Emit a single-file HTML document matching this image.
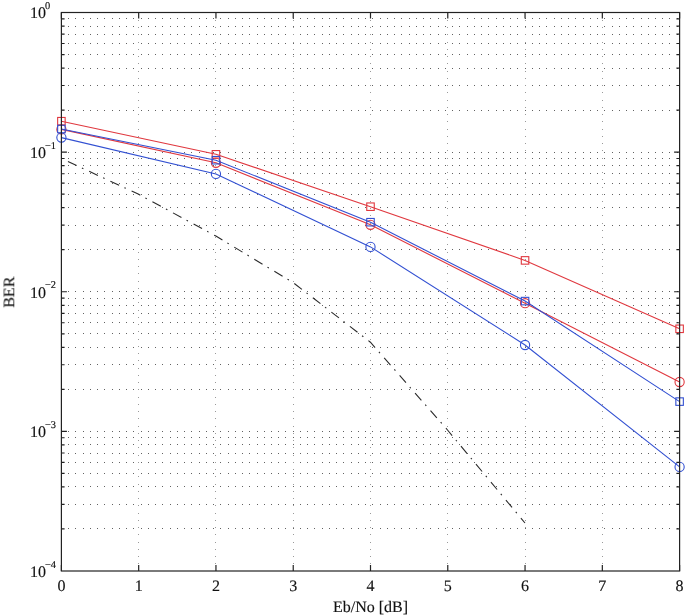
<!DOCTYPE html>
<html><head><meta charset="utf-8"><title>BER plot</title>
<style>html,body{margin:0;padding:0;background:#fff;}body{width:685px;height:615px;overflow:hidden;font-family:"Liberation Serif",serif;}svg{display:block;}</style>
</head><body><div id="w"><svg width="685" height="615" viewBox="0 0 685 615"><rect width="685" height="615" fill="#fff"/><path shape-rendering="crispEdges" fill="#626262" d="M68 152h1v1h-1zM75 152h1v1h-1zM83 152h1v1h-1zM90 152h1v1h-1zM97 152h1v1h-1zM104 152h1v1h-1zM112 152h1v1h-1zM119 152h1v1h-1zM126 152h1v1h-1zM133 152h1v1h-1zM141 152h1v1h-1zM148 152h1v1h-1zM155 152h1v1h-1zM162 152h1v1h-1zM170 152h1v1h-1zM177 152h1v1h-1zM184 152h1v1h-1zM191 152h1v1h-1zM199 152h1v1h-1zM206 152h1v1h-1zM213 152h1v1h-1zM220 152h1v1h-1zM228 152h1v1h-1zM235 152h1v1h-1zM242 152h1v1h-1zM249 152h1v1h-1zM257 152h1v1h-1zM264 152h1v1h-1zM271 152h1v1h-1zM278 152h1v1h-1zM285 152h1v1h-1zM293 152h1v1h-1zM300 152h1v1h-1zM307 152h1v1h-1zM314 152h1v1h-1zM322 152h1v1h-1zM329 152h1v1h-1zM336 152h1v1h-1zM343 152h1v1h-1zM351 152h1v1h-1zM358 152h1v1h-1zM365 152h1v1h-1zM372 152h1v1h-1zM380 152h1v1h-1zM387 152h1v1h-1zM394 152h1v1h-1zM401 152h1v1h-1zM409 152h1v1h-1zM416 152h1v1h-1zM423 152h1v1h-1zM430 152h1v1h-1zM438 152h1v1h-1zM445 152h1v1h-1zM452 152h1v1h-1zM459 152h1v1h-1zM467 152h1v1h-1zM474 152h1v1h-1zM481 152h1v1h-1zM488 152h1v1h-1zM496 152h1v1h-1zM503 152h1v1h-1zM510 152h1v1h-1zM517 152h1v1h-1zM525 152h1v1h-1zM532 152h1v1h-1zM539 152h1v1h-1zM546 152h1v1h-1zM554 152h1v1h-1zM561 152h1v1h-1zM568 152h1v1h-1zM575 152h1v1h-1zM583 152h1v1h-1zM590 152h1v1h-1zM597 152h1v1h-1zM604 152h1v1h-1zM612 152h1v1h-1zM619 152h1v1h-1zM626 152h1v1h-1zM633 152h1v1h-1zM641 152h1v1h-1zM648 152h1v1h-1zM655 152h1v1h-1zM662 152h1v1h-1zM669 152h1v1h-1zM677 152h1v1h-1zM68 110h1v1h-1zM75 110h1v1h-1zM83 110h1v1h-1zM90 110h1v1h-1zM97 110h1v1h-1zM104 110h1v1h-1zM112 110h1v1h-1zM119 110h1v1h-1zM126 110h1v1h-1zM133 110h1v1h-1zM141 110h1v1h-1zM148 110h1v1h-1zM155 110h1v1h-1zM162 110h1v1h-1zM170 110h1v1h-1zM177 110h1v1h-1zM184 110h1v1h-1zM191 110h1v1h-1zM199 110h1v1h-1zM206 110h1v1h-1zM213 110h1v1h-1zM220 110h1v1h-1zM228 110h1v1h-1zM235 110h1v1h-1zM242 110h1v1h-1zM249 110h1v1h-1zM257 110h1v1h-1zM264 110h1v1h-1zM271 110h1v1h-1zM278 110h1v1h-1zM285 110h1v1h-1zM293 110h1v1h-1zM300 110h1v1h-1zM307 110h1v1h-1zM314 110h1v1h-1zM322 110h1v1h-1zM329 110h1v1h-1zM336 110h1v1h-1zM343 110h1v1h-1zM351 110h1v1h-1zM358 110h1v1h-1zM365 110h1v1h-1zM372 110h1v1h-1zM380 110h1v1h-1zM387 110h1v1h-1zM394 110h1v1h-1zM401 110h1v1h-1zM409 110h1v1h-1zM416 110h1v1h-1zM423 110h1v1h-1zM430 110h1v1h-1zM438 110h1v1h-1zM445 110h1v1h-1zM452 110h1v1h-1zM459 110h1v1h-1zM467 110h1v1h-1zM474 110h1v1h-1zM481 110h1v1h-1zM488 110h1v1h-1zM496 110h1v1h-1zM503 110h1v1h-1zM510 110h1v1h-1zM517 110h1v1h-1zM525 110h1v1h-1zM532 110h1v1h-1zM539 110h1v1h-1zM546 110h1v1h-1zM554 110h1v1h-1zM561 110h1v1h-1zM568 110h1v1h-1zM575 110h1v1h-1zM583 110h1v1h-1zM590 110h1v1h-1zM597 110h1v1h-1zM604 110h1v1h-1zM612 110h1v1h-1zM619 110h1v1h-1zM626 110h1v1h-1zM633 110h1v1h-1zM641 110h1v1h-1zM648 110h1v1h-1zM655 110h1v1h-1zM662 110h1v1h-1zM669 110h1v1h-1zM677 110h1v1h-1zM68 85h1v1h-1zM75 85h1v1h-1zM83 85h1v1h-1zM90 85h1v1h-1zM97 85h1v1h-1zM104 85h1v1h-1zM112 85h1v1h-1zM119 85h1v1h-1zM126 85h1v1h-1zM133 85h1v1h-1zM141 85h1v1h-1zM148 85h1v1h-1zM155 85h1v1h-1zM162 85h1v1h-1zM170 85h1v1h-1zM177 85h1v1h-1zM184 85h1v1h-1zM191 85h1v1h-1zM199 85h1v1h-1zM206 85h1v1h-1zM213 85h1v1h-1zM220 85h1v1h-1zM228 85h1v1h-1zM235 85h1v1h-1zM242 85h1v1h-1zM249 85h1v1h-1zM257 85h1v1h-1zM264 85h1v1h-1zM271 85h1v1h-1zM278 85h1v1h-1zM285 85h1v1h-1zM293 85h1v1h-1zM300 85h1v1h-1zM307 85h1v1h-1zM314 85h1v1h-1zM322 85h1v1h-1zM329 85h1v1h-1zM336 85h1v1h-1zM343 85h1v1h-1zM351 85h1v1h-1zM358 85h1v1h-1zM365 85h1v1h-1zM372 85h1v1h-1zM380 85h1v1h-1zM387 85h1v1h-1zM394 85h1v1h-1zM401 85h1v1h-1zM409 85h1v1h-1zM416 85h1v1h-1zM423 85h1v1h-1zM430 85h1v1h-1zM438 85h1v1h-1zM445 85h1v1h-1zM452 85h1v1h-1zM459 85h1v1h-1zM467 85h1v1h-1zM474 85h1v1h-1zM481 85h1v1h-1zM488 85h1v1h-1zM496 85h1v1h-1zM503 85h1v1h-1zM510 85h1v1h-1zM517 85h1v1h-1zM525 85h1v1h-1zM532 85h1v1h-1zM539 85h1v1h-1zM546 85h1v1h-1zM554 85h1v1h-1zM561 85h1v1h-1zM568 85h1v1h-1zM575 85h1v1h-1zM583 85h1v1h-1zM590 85h1v1h-1zM597 85h1v1h-1zM604 85h1v1h-1zM612 85h1v1h-1zM619 85h1v1h-1zM626 85h1v1h-1zM633 85h1v1h-1zM641 85h1v1h-1zM648 85h1v1h-1zM655 85h1v1h-1zM662 85h1v1h-1zM669 85h1v1h-1zM677 85h1v1h-1zM68 68h1v1h-1zM75 68h1v1h-1zM83 68h1v1h-1zM90 68h1v1h-1zM97 68h1v1h-1zM104 68h1v1h-1zM112 68h1v1h-1zM119 68h1v1h-1zM126 68h1v1h-1zM133 68h1v1h-1zM141 68h1v1h-1zM148 68h1v1h-1zM155 68h1v1h-1zM162 68h1v1h-1zM170 68h1v1h-1zM177 68h1v1h-1zM184 68h1v1h-1zM191 68h1v1h-1zM199 68h1v1h-1zM206 68h1v1h-1zM213 68h1v1h-1zM220 68h1v1h-1zM228 68h1v1h-1zM235 68h1v1h-1zM242 68h1v1h-1zM249 68h1v1h-1zM257 68h1v1h-1zM264 68h1v1h-1zM271 68h1v1h-1zM278 68h1v1h-1zM285 68h1v1h-1zM293 68h1v1h-1zM300 68h1v1h-1zM307 68h1v1h-1zM314 68h1v1h-1zM322 68h1v1h-1zM329 68h1v1h-1zM336 68h1v1h-1zM343 68h1v1h-1zM351 68h1v1h-1zM358 68h1v1h-1zM365 68h1v1h-1zM372 68h1v1h-1zM380 68h1v1h-1zM387 68h1v1h-1zM394 68h1v1h-1zM401 68h1v1h-1zM409 68h1v1h-1zM416 68h1v1h-1zM423 68h1v1h-1zM430 68h1v1h-1zM438 68h1v1h-1zM445 68h1v1h-1zM452 68h1v1h-1zM459 68h1v1h-1zM467 68h1v1h-1zM474 68h1v1h-1zM481 68h1v1h-1zM488 68h1v1h-1zM496 68h1v1h-1zM503 68h1v1h-1zM510 68h1v1h-1zM517 68h1v1h-1zM525 68h1v1h-1zM532 68h1v1h-1zM539 68h1v1h-1zM546 68h1v1h-1zM554 68h1v1h-1zM561 68h1v1h-1zM568 68h1v1h-1zM575 68h1v1h-1zM583 68h1v1h-1zM590 68h1v1h-1zM597 68h1v1h-1zM604 68h1v1h-1zM612 68h1v1h-1zM619 68h1v1h-1zM626 68h1v1h-1zM633 68h1v1h-1zM641 68h1v1h-1zM648 68h1v1h-1zM655 68h1v1h-1zM662 68h1v1h-1zM669 68h1v1h-1zM677 68h1v1h-1zM68 54h1v1h-1zM75 54h1v1h-1zM83 54h1v1h-1zM90 54h1v1h-1zM97 54h1v1h-1zM104 54h1v1h-1zM112 54h1v1h-1zM119 54h1v1h-1zM126 54h1v1h-1zM133 54h1v1h-1zM141 54h1v1h-1zM148 54h1v1h-1zM155 54h1v1h-1zM162 54h1v1h-1zM170 54h1v1h-1zM177 54h1v1h-1zM184 54h1v1h-1zM191 54h1v1h-1zM199 54h1v1h-1zM206 54h1v1h-1zM213 54h1v1h-1zM220 54h1v1h-1zM228 54h1v1h-1zM235 54h1v1h-1zM242 54h1v1h-1zM249 54h1v1h-1zM257 54h1v1h-1zM264 54h1v1h-1zM271 54h1v1h-1zM278 54h1v1h-1zM285 54h1v1h-1zM293 54h1v1h-1zM300 54h1v1h-1zM307 54h1v1h-1zM314 54h1v1h-1zM322 54h1v1h-1zM329 54h1v1h-1zM336 54h1v1h-1zM343 54h1v1h-1zM351 54h1v1h-1zM358 54h1v1h-1zM365 54h1v1h-1zM372 54h1v1h-1zM380 54h1v1h-1zM387 54h1v1h-1zM394 54h1v1h-1zM401 54h1v1h-1zM409 54h1v1h-1zM416 54h1v1h-1zM423 54h1v1h-1zM430 54h1v1h-1zM438 54h1v1h-1zM445 54h1v1h-1zM452 54h1v1h-1zM459 54h1v1h-1zM467 54h1v1h-1zM474 54h1v1h-1zM481 54h1v1h-1zM488 54h1v1h-1zM496 54h1v1h-1zM503 54h1v1h-1zM510 54h1v1h-1zM517 54h1v1h-1zM525 54h1v1h-1zM532 54h1v1h-1zM539 54h1v1h-1zM546 54h1v1h-1zM554 54h1v1h-1zM561 54h1v1h-1zM568 54h1v1h-1zM575 54h1v1h-1zM583 54h1v1h-1zM590 54h1v1h-1zM597 54h1v1h-1zM604 54h1v1h-1zM612 54h1v1h-1zM619 54h1v1h-1zM626 54h1v1h-1zM633 54h1v1h-1zM641 54h1v1h-1zM648 54h1v1h-1zM655 54h1v1h-1zM662 54h1v1h-1zM669 54h1v1h-1zM677 54h1v1h-1zM68 43h1v1h-1zM75 43h1v1h-1zM83 43h1v1h-1zM90 43h1v1h-1zM97 43h1v1h-1zM104 43h1v1h-1zM112 43h1v1h-1zM119 43h1v1h-1zM126 43h1v1h-1zM133 43h1v1h-1zM141 43h1v1h-1zM148 43h1v1h-1zM155 43h1v1h-1zM162 43h1v1h-1zM170 43h1v1h-1zM177 43h1v1h-1zM184 43h1v1h-1zM191 43h1v1h-1zM199 43h1v1h-1zM206 43h1v1h-1zM213 43h1v1h-1zM220 43h1v1h-1zM228 43h1v1h-1zM235 43h1v1h-1zM242 43h1v1h-1zM249 43h1v1h-1zM257 43h1v1h-1zM264 43h1v1h-1zM271 43h1v1h-1zM278 43h1v1h-1zM285 43h1v1h-1zM293 43h1v1h-1zM300 43h1v1h-1zM307 43h1v1h-1zM314 43h1v1h-1zM322 43h1v1h-1zM329 43h1v1h-1zM336 43h1v1h-1zM343 43h1v1h-1zM351 43h1v1h-1zM358 43h1v1h-1zM365 43h1v1h-1zM372 43h1v1h-1zM380 43h1v1h-1zM387 43h1v1h-1zM394 43h1v1h-1zM401 43h1v1h-1zM409 43h1v1h-1zM416 43h1v1h-1zM423 43h1v1h-1zM430 43h1v1h-1zM438 43h1v1h-1zM445 43h1v1h-1zM452 43h1v1h-1zM459 43h1v1h-1zM467 43h1v1h-1zM474 43h1v1h-1zM481 43h1v1h-1zM488 43h1v1h-1zM496 43h1v1h-1zM503 43h1v1h-1zM510 43h1v1h-1zM517 43h1v1h-1zM525 43h1v1h-1zM532 43h1v1h-1zM539 43h1v1h-1zM546 43h1v1h-1zM554 43h1v1h-1zM561 43h1v1h-1zM568 43h1v1h-1zM575 43h1v1h-1zM583 43h1v1h-1zM590 43h1v1h-1zM597 43h1v1h-1zM604 43h1v1h-1zM612 43h1v1h-1zM619 43h1v1h-1zM626 43h1v1h-1zM633 43h1v1h-1zM641 43h1v1h-1zM648 43h1v1h-1zM655 43h1v1h-1zM662 43h1v1h-1zM669 43h1v1h-1zM677 43h1v1h-1zM68 34h1v1h-1zM75 34h1v1h-1zM83 34h1v1h-1zM90 34h1v1h-1zM97 34h1v1h-1zM104 34h1v1h-1zM112 34h1v1h-1zM119 34h1v1h-1zM126 34h1v1h-1zM133 34h1v1h-1zM141 34h1v1h-1zM148 34h1v1h-1zM155 34h1v1h-1zM162 34h1v1h-1zM170 34h1v1h-1zM177 34h1v1h-1zM184 34h1v1h-1zM191 34h1v1h-1zM199 34h1v1h-1zM206 34h1v1h-1zM213 34h1v1h-1zM220 34h1v1h-1zM228 34h1v1h-1zM235 34h1v1h-1zM242 34h1v1h-1zM249 34h1v1h-1zM257 34h1v1h-1zM264 34h1v1h-1zM271 34h1v1h-1zM278 34h1v1h-1zM285 34h1v1h-1zM293 34h1v1h-1zM300 34h1v1h-1zM307 34h1v1h-1zM314 34h1v1h-1zM322 34h1v1h-1zM329 34h1v1h-1zM336 34h1v1h-1zM343 34h1v1h-1zM351 34h1v1h-1zM358 34h1v1h-1zM365 34h1v1h-1zM372 34h1v1h-1zM380 34h1v1h-1zM387 34h1v1h-1zM394 34h1v1h-1zM401 34h1v1h-1zM409 34h1v1h-1zM416 34h1v1h-1zM423 34h1v1h-1zM430 34h1v1h-1zM438 34h1v1h-1zM445 34h1v1h-1zM452 34h1v1h-1zM459 34h1v1h-1zM467 34h1v1h-1zM474 34h1v1h-1zM481 34h1v1h-1zM488 34h1v1h-1zM496 34h1v1h-1zM503 34h1v1h-1zM510 34h1v1h-1zM517 34h1v1h-1zM525 34h1v1h-1zM532 34h1v1h-1zM539 34h1v1h-1zM546 34h1v1h-1zM554 34h1v1h-1zM561 34h1v1h-1zM568 34h1v1h-1zM575 34h1v1h-1zM583 34h1v1h-1zM590 34h1v1h-1zM597 34h1v1h-1zM604 34h1v1h-1zM612 34h1v1h-1zM619 34h1v1h-1zM626 34h1v1h-1zM633 34h1v1h-1zM641 34h1v1h-1zM648 34h1v1h-1zM655 34h1v1h-1zM662 34h1v1h-1zM669 34h1v1h-1zM677 34h1v1h-1zM68 26h1v1h-1zM75 26h1v1h-1zM83 26h1v1h-1zM90 26h1v1h-1zM97 26h1v1h-1zM104 26h1v1h-1zM112 26h1v1h-1zM119 26h1v1h-1zM126 26h1v1h-1zM133 26h1v1h-1zM141 26h1v1h-1zM148 26h1v1h-1zM155 26h1v1h-1zM162 26h1v1h-1zM170 26h1v1h-1zM177 26h1v1h-1zM184 26h1v1h-1zM191 26h1v1h-1zM199 26h1v1h-1zM206 26h1v1h-1zM213 26h1v1h-1zM220 26h1v1h-1zM228 26h1v1h-1zM235 26h1v1h-1zM242 26h1v1h-1zM249 26h1v1h-1zM257 26h1v1h-1zM264 26h1v1h-1zM271 26h1v1h-1zM278 26h1v1h-1zM285 26h1v1h-1zM293 26h1v1h-1zM300 26h1v1h-1zM307 26h1v1h-1zM314 26h1v1h-1zM322 26h1v1h-1zM329 26h1v1h-1zM336 26h1v1h-1zM343 26h1v1h-1zM351 26h1v1h-1zM358 26h1v1h-1zM365 26h1v1h-1zM372 26h1v1h-1zM380 26h1v1h-1zM387 26h1v1h-1zM394 26h1v1h-1zM401 26h1v1h-1zM409 26h1v1h-1zM416 26h1v1h-1zM423 26h1v1h-1zM430 26h1v1h-1zM438 26h1v1h-1zM445 26h1v1h-1zM452 26h1v1h-1zM459 26h1v1h-1zM467 26h1v1h-1zM474 26h1v1h-1zM481 26h1v1h-1zM488 26h1v1h-1zM496 26h1v1h-1zM503 26h1v1h-1zM510 26h1v1h-1zM517 26h1v1h-1zM525 26h1v1h-1zM532 26h1v1h-1zM539 26h1v1h-1zM546 26h1v1h-1zM554 26h1v1h-1zM561 26h1v1h-1zM568 26h1v1h-1zM575 26h1v1h-1zM583 26h1v1h-1zM590 26h1v1h-1zM597 26h1v1h-1zM604 26h1v1h-1zM612 26h1v1h-1zM619 26h1v1h-1zM626 26h1v1h-1zM633 26h1v1h-1zM641 26h1v1h-1zM648 26h1v1h-1zM655 26h1v1h-1zM662 26h1v1h-1zM669 26h1v1h-1zM677 26h1v1h-1zM68 18h1v1h-1zM75 18h1v1h-1zM83 18h1v1h-1zM90 18h1v1h-1zM97 18h1v1h-1zM104 18h1v1h-1zM112 18h1v1h-1zM119 18h1v1h-1zM126 18h1v1h-1zM133 18h1v1h-1zM141 18h1v1h-1zM148 18h1v1h-1zM155 18h1v1h-1zM162 18h1v1h-1zM170 18h1v1h-1zM177 18h1v1h-1zM184 18h1v1h-1zM191 18h1v1h-1zM199 18h1v1h-1zM206 18h1v1h-1zM213 18h1v1h-1zM220 18h1v1h-1zM228 18h1v1h-1zM235 18h1v1h-1zM242 18h1v1h-1zM249 18h1v1h-1zM257 18h1v1h-1zM264 18h1v1h-1zM271 18h1v1h-1zM278 18h1v1h-1zM285 18h1v1h-1zM293 18h1v1h-1zM300 18h1v1h-1zM307 18h1v1h-1zM314 18h1v1h-1zM322 18h1v1h-1zM329 18h1v1h-1zM336 18h1v1h-1zM343 18h1v1h-1zM351 18h1v1h-1zM358 18h1v1h-1zM365 18h1v1h-1zM372 18h1v1h-1zM380 18h1v1h-1zM387 18h1v1h-1zM394 18h1v1h-1zM401 18h1v1h-1zM409 18h1v1h-1zM416 18h1v1h-1zM423 18h1v1h-1zM430 18h1v1h-1zM438 18h1v1h-1zM445 18h1v1h-1zM452 18h1v1h-1zM459 18h1v1h-1zM467 18h1v1h-1zM474 18h1v1h-1zM481 18h1v1h-1zM488 18h1v1h-1zM496 18h1v1h-1zM503 18h1v1h-1zM510 18h1v1h-1zM517 18h1v1h-1zM525 18h1v1h-1zM532 18h1v1h-1zM539 18h1v1h-1zM546 18h1v1h-1zM554 18h1v1h-1zM561 18h1v1h-1zM568 18h1v1h-1zM575 18h1v1h-1zM583 18h1v1h-1zM590 18h1v1h-1zM597 18h1v1h-1zM604 18h1v1h-1zM612 18h1v1h-1zM619 18h1v1h-1zM626 18h1v1h-1zM633 18h1v1h-1zM641 18h1v1h-1zM648 18h1v1h-1zM655 18h1v1h-1zM662 18h1v1h-1zM669 18h1v1h-1zM677 18h1v1h-1zM68 291h1v1h-1zM75 291h1v1h-1zM83 291h1v1h-1zM90 291h1v1h-1zM97 291h1v1h-1zM104 291h1v1h-1zM112 291h1v1h-1zM119 291h1v1h-1zM126 291h1v1h-1zM133 291h1v1h-1zM141 291h1v1h-1zM148 291h1v1h-1zM155 291h1v1h-1zM162 291h1v1h-1zM170 291h1v1h-1zM177 291h1v1h-1zM184 291h1v1h-1zM191 291h1v1h-1zM199 291h1v1h-1zM206 291h1v1h-1zM213 291h1v1h-1zM220 291h1v1h-1zM228 291h1v1h-1zM235 291h1v1h-1zM242 291h1v1h-1zM249 291h1v1h-1zM257 291h1v1h-1zM264 291h1v1h-1zM271 291h1v1h-1zM278 291h1v1h-1zM285 291h1v1h-1zM293 291h1v1h-1zM300 291h1v1h-1zM307 291h1v1h-1zM314 291h1v1h-1zM322 291h1v1h-1zM329 291h1v1h-1zM336 291h1v1h-1zM343 291h1v1h-1zM351 291h1v1h-1zM358 291h1v1h-1zM365 291h1v1h-1zM372 291h1v1h-1zM380 291h1v1h-1zM387 291h1v1h-1zM394 291h1v1h-1zM401 291h1v1h-1zM409 291h1v1h-1zM416 291h1v1h-1zM423 291h1v1h-1zM430 291h1v1h-1zM438 291h1v1h-1zM445 291h1v1h-1zM452 291h1v1h-1zM459 291h1v1h-1zM467 291h1v1h-1zM474 291h1v1h-1zM481 291h1v1h-1zM488 291h1v1h-1zM496 291h1v1h-1zM503 291h1v1h-1zM510 291h1v1h-1zM517 291h1v1h-1zM525 291h1v1h-1zM532 291h1v1h-1zM539 291h1v1h-1zM546 291h1v1h-1zM554 291h1v1h-1zM561 291h1v1h-1zM568 291h1v1h-1zM575 291h1v1h-1zM583 291h1v1h-1zM590 291h1v1h-1zM597 291h1v1h-1zM604 291h1v1h-1zM612 291h1v1h-1zM619 291h1v1h-1zM626 291h1v1h-1zM633 291h1v1h-1zM641 291h1v1h-1zM648 291h1v1h-1zM655 291h1v1h-1zM662 291h1v1h-1zM669 291h1v1h-1zM677 291h1v1h-1zM68 249h1v1h-1zM75 249h1v1h-1zM83 249h1v1h-1zM90 249h1v1h-1zM97 249h1v1h-1zM104 249h1v1h-1zM112 249h1v1h-1zM119 249h1v1h-1zM126 249h1v1h-1zM133 249h1v1h-1zM141 249h1v1h-1zM148 249h1v1h-1zM155 249h1v1h-1zM162 249h1v1h-1zM170 249h1v1h-1zM177 249h1v1h-1zM184 249h1v1h-1zM191 249h1v1h-1zM199 249h1v1h-1zM206 249h1v1h-1zM213 249h1v1h-1zM220 249h1v1h-1zM228 249h1v1h-1zM235 249h1v1h-1zM242 249h1v1h-1zM249 249h1v1h-1zM257 249h1v1h-1zM264 249h1v1h-1zM271 249h1v1h-1zM278 249h1v1h-1zM285 249h1v1h-1zM293 249h1v1h-1zM300 249h1v1h-1zM307 249h1v1h-1zM314 249h1v1h-1zM322 249h1v1h-1zM329 249h1v1h-1zM336 249h1v1h-1zM343 249h1v1h-1zM351 249h1v1h-1zM358 249h1v1h-1zM365 249h1v1h-1zM372 249h1v1h-1zM380 249h1v1h-1zM387 249h1v1h-1zM394 249h1v1h-1zM401 249h1v1h-1zM409 249h1v1h-1zM416 249h1v1h-1zM423 249h1v1h-1zM430 249h1v1h-1zM438 249h1v1h-1zM445 249h1v1h-1zM452 249h1v1h-1zM459 249h1v1h-1zM467 249h1v1h-1zM474 249h1v1h-1zM481 249h1v1h-1zM488 249h1v1h-1zM496 249h1v1h-1zM503 249h1v1h-1zM510 249h1v1h-1zM517 249h1v1h-1zM525 249h1v1h-1zM532 249h1v1h-1zM539 249h1v1h-1zM546 249h1v1h-1zM554 249h1v1h-1zM561 249h1v1h-1zM568 249h1v1h-1zM575 249h1v1h-1zM583 249h1v1h-1zM590 249h1v1h-1zM597 249h1v1h-1zM604 249h1v1h-1zM612 249h1v1h-1zM619 249h1v1h-1zM626 249h1v1h-1zM633 249h1v1h-1zM641 249h1v1h-1zM648 249h1v1h-1zM655 249h1v1h-1zM662 249h1v1h-1zM669 249h1v1h-1zM677 249h1v1h-1zM68 225h1v1h-1zM75 225h1v1h-1zM83 225h1v1h-1zM90 225h1v1h-1zM97 225h1v1h-1zM104 225h1v1h-1zM112 225h1v1h-1zM119 225h1v1h-1zM126 225h1v1h-1zM133 225h1v1h-1zM141 225h1v1h-1zM148 225h1v1h-1zM155 225h1v1h-1zM162 225h1v1h-1zM170 225h1v1h-1zM177 225h1v1h-1zM184 225h1v1h-1zM191 225h1v1h-1zM199 225h1v1h-1zM206 225h1v1h-1zM213 225h1v1h-1zM220 225h1v1h-1zM228 225h1v1h-1zM235 225h1v1h-1zM242 225h1v1h-1zM249 225h1v1h-1zM257 225h1v1h-1zM264 225h1v1h-1zM271 225h1v1h-1zM278 225h1v1h-1zM285 225h1v1h-1zM293 225h1v1h-1zM300 225h1v1h-1zM307 225h1v1h-1zM314 225h1v1h-1zM322 225h1v1h-1zM329 225h1v1h-1zM336 225h1v1h-1zM343 225h1v1h-1zM351 225h1v1h-1zM358 225h1v1h-1zM365 225h1v1h-1zM372 225h1v1h-1zM380 225h1v1h-1zM387 225h1v1h-1zM394 225h1v1h-1zM401 225h1v1h-1zM409 225h1v1h-1zM416 225h1v1h-1zM423 225h1v1h-1zM430 225h1v1h-1zM438 225h1v1h-1zM445 225h1v1h-1zM452 225h1v1h-1zM459 225h1v1h-1zM467 225h1v1h-1zM474 225h1v1h-1zM481 225h1v1h-1zM488 225h1v1h-1zM496 225h1v1h-1zM503 225h1v1h-1zM510 225h1v1h-1zM517 225h1v1h-1zM525 225h1v1h-1zM532 225h1v1h-1zM539 225h1v1h-1zM546 225h1v1h-1zM554 225h1v1h-1zM561 225h1v1h-1zM568 225h1v1h-1zM575 225h1v1h-1zM583 225h1v1h-1zM590 225h1v1h-1zM597 225h1v1h-1zM604 225h1v1h-1zM612 225h1v1h-1zM619 225h1v1h-1zM626 225h1v1h-1zM633 225h1v1h-1zM641 225h1v1h-1zM648 225h1v1h-1zM655 225h1v1h-1zM662 225h1v1h-1zM669 225h1v1h-1zM677 225h1v1h-1zM68 207h1v1h-1zM75 207h1v1h-1zM83 207h1v1h-1zM90 207h1v1h-1zM97 207h1v1h-1zM104 207h1v1h-1zM112 207h1v1h-1zM119 207h1v1h-1zM126 207h1v1h-1zM133 207h1v1h-1zM141 207h1v1h-1zM148 207h1v1h-1zM155 207h1v1h-1zM162 207h1v1h-1zM170 207h1v1h-1zM177 207h1v1h-1zM184 207h1v1h-1zM191 207h1v1h-1zM199 207h1v1h-1zM206 207h1v1h-1zM213 207h1v1h-1zM220 207h1v1h-1zM228 207h1v1h-1zM235 207h1v1h-1zM242 207h1v1h-1zM249 207h1v1h-1zM257 207h1v1h-1zM264 207h1v1h-1zM271 207h1v1h-1zM278 207h1v1h-1zM285 207h1v1h-1zM293 207h1v1h-1zM300 207h1v1h-1zM307 207h1v1h-1zM314 207h1v1h-1zM322 207h1v1h-1zM329 207h1v1h-1zM336 207h1v1h-1zM343 207h1v1h-1zM351 207h1v1h-1zM358 207h1v1h-1zM365 207h1v1h-1zM372 207h1v1h-1zM380 207h1v1h-1zM387 207h1v1h-1zM394 207h1v1h-1zM401 207h1v1h-1zM409 207h1v1h-1zM416 207h1v1h-1zM423 207h1v1h-1zM430 207h1v1h-1zM438 207h1v1h-1zM445 207h1v1h-1zM452 207h1v1h-1zM459 207h1v1h-1zM467 207h1v1h-1zM474 207h1v1h-1zM481 207h1v1h-1zM488 207h1v1h-1zM496 207h1v1h-1zM503 207h1v1h-1zM510 207h1v1h-1zM517 207h1v1h-1zM525 207h1v1h-1zM532 207h1v1h-1zM539 207h1v1h-1zM546 207h1v1h-1zM554 207h1v1h-1zM561 207h1v1h-1zM568 207h1v1h-1zM575 207h1v1h-1zM583 207h1v1h-1zM590 207h1v1h-1zM597 207h1v1h-1zM604 207h1v1h-1zM612 207h1v1h-1zM619 207h1v1h-1zM626 207h1v1h-1zM633 207h1v1h-1zM641 207h1v1h-1zM648 207h1v1h-1zM655 207h1v1h-1zM662 207h1v1h-1zM669 207h1v1h-1zM677 207h1v1h-1zM68 194h1v1h-1zM75 194h1v1h-1zM83 194h1v1h-1zM90 194h1v1h-1zM97 194h1v1h-1zM104 194h1v1h-1zM112 194h1v1h-1zM119 194h1v1h-1zM126 194h1v1h-1zM133 194h1v1h-1zM141 194h1v1h-1zM148 194h1v1h-1zM155 194h1v1h-1zM162 194h1v1h-1zM170 194h1v1h-1zM177 194h1v1h-1zM184 194h1v1h-1zM191 194h1v1h-1zM199 194h1v1h-1zM206 194h1v1h-1zM213 194h1v1h-1zM220 194h1v1h-1zM228 194h1v1h-1zM235 194h1v1h-1zM242 194h1v1h-1zM249 194h1v1h-1zM257 194h1v1h-1zM264 194h1v1h-1zM271 194h1v1h-1zM278 194h1v1h-1zM285 194h1v1h-1zM293 194h1v1h-1zM300 194h1v1h-1zM307 194h1v1h-1zM314 194h1v1h-1zM322 194h1v1h-1zM329 194h1v1h-1zM336 194h1v1h-1zM343 194h1v1h-1zM351 194h1v1h-1zM358 194h1v1h-1zM365 194h1v1h-1zM372 194h1v1h-1zM380 194h1v1h-1zM387 194h1v1h-1zM394 194h1v1h-1zM401 194h1v1h-1zM409 194h1v1h-1zM416 194h1v1h-1zM423 194h1v1h-1zM430 194h1v1h-1zM438 194h1v1h-1zM445 194h1v1h-1zM452 194h1v1h-1zM459 194h1v1h-1zM467 194h1v1h-1zM474 194h1v1h-1zM481 194h1v1h-1zM488 194h1v1h-1zM496 194h1v1h-1zM503 194h1v1h-1zM510 194h1v1h-1zM517 194h1v1h-1zM525 194h1v1h-1zM532 194h1v1h-1zM539 194h1v1h-1zM546 194h1v1h-1zM554 194h1v1h-1zM561 194h1v1h-1zM568 194h1v1h-1zM575 194h1v1h-1zM583 194h1v1h-1zM590 194h1v1h-1zM597 194h1v1h-1zM604 194h1v1h-1zM612 194h1v1h-1zM619 194h1v1h-1zM626 194h1v1h-1zM633 194h1v1h-1zM641 194h1v1h-1zM648 194h1v1h-1zM655 194h1v1h-1zM662 194h1v1h-1zM669 194h1v1h-1zM677 194h1v1h-1zM68 183h1v1h-1zM75 183h1v1h-1zM83 183h1v1h-1zM90 183h1v1h-1zM97 183h1v1h-1zM104 183h1v1h-1zM112 183h1v1h-1zM119 183h1v1h-1zM126 183h1v1h-1zM133 183h1v1h-1zM141 183h1v1h-1zM148 183h1v1h-1zM155 183h1v1h-1zM162 183h1v1h-1zM170 183h1v1h-1zM177 183h1v1h-1zM184 183h1v1h-1zM191 183h1v1h-1zM199 183h1v1h-1zM206 183h1v1h-1zM213 183h1v1h-1zM220 183h1v1h-1zM228 183h1v1h-1zM235 183h1v1h-1zM242 183h1v1h-1zM249 183h1v1h-1zM257 183h1v1h-1zM264 183h1v1h-1zM271 183h1v1h-1zM278 183h1v1h-1zM285 183h1v1h-1zM293 183h1v1h-1zM300 183h1v1h-1zM307 183h1v1h-1zM314 183h1v1h-1zM322 183h1v1h-1zM329 183h1v1h-1zM336 183h1v1h-1zM343 183h1v1h-1zM351 183h1v1h-1zM358 183h1v1h-1zM365 183h1v1h-1zM372 183h1v1h-1zM380 183h1v1h-1zM387 183h1v1h-1zM394 183h1v1h-1zM401 183h1v1h-1zM409 183h1v1h-1zM416 183h1v1h-1zM423 183h1v1h-1zM430 183h1v1h-1zM438 183h1v1h-1zM445 183h1v1h-1zM452 183h1v1h-1zM459 183h1v1h-1zM467 183h1v1h-1zM474 183h1v1h-1zM481 183h1v1h-1zM488 183h1v1h-1zM496 183h1v1h-1zM503 183h1v1h-1zM510 183h1v1h-1zM517 183h1v1h-1zM525 183h1v1h-1zM532 183h1v1h-1zM539 183h1v1h-1zM546 183h1v1h-1zM554 183h1v1h-1zM561 183h1v1h-1zM568 183h1v1h-1zM575 183h1v1h-1zM583 183h1v1h-1zM590 183h1v1h-1zM597 183h1v1h-1zM604 183h1v1h-1zM612 183h1v1h-1zM619 183h1v1h-1zM626 183h1v1h-1zM633 183h1v1h-1zM641 183h1v1h-1zM648 183h1v1h-1zM655 183h1v1h-1zM662 183h1v1h-1zM669 183h1v1h-1zM677 183h1v1h-1zM68 173h1v1h-1zM75 173h1v1h-1zM83 173h1v1h-1zM90 173h1v1h-1zM97 173h1v1h-1zM104 173h1v1h-1zM112 173h1v1h-1zM119 173h1v1h-1zM126 173h1v1h-1zM133 173h1v1h-1zM141 173h1v1h-1zM148 173h1v1h-1zM155 173h1v1h-1zM162 173h1v1h-1zM170 173h1v1h-1zM177 173h1v1h-1zM184 173h1v1h-1zM191 173h1v1h-1zM199 173h1v1h-1zM206 173h1v1h-1zM213 173h1v1h-1zM220 173h1v1h-1zM228 173h1v1h-1zM235 173h1v1h-1zM242 173h1v1h-1zM249 173h1v1h-1zM257 173h1v1h-1zM264 173h1v1h-1zM271 173h1v1h-1zM278 173h1v1h-1zM285 173h1v1h-1zM293 173h1v1h-1zM300 173h1v1h-1zM307 173h1v1h-1zM314 173h1v1h-1zM322 173h1v1h-1zM329 173h1v1h-1zM336 173h1v1h-1zM343 173h1v1h-1zM351 173h1v1h-1zM358 173h1v1h-1zM365 173h1v1h-1zM372 173h1v1h-1zM380 173h1v1h-1zM387 173h1v1h-1zM394 173h1v1h-1zM401 173h1v1h-1zM409 173h1v1h-1zM416 173h1v1h-1zM423 173h1v1h-1zM430 173h1v1h-1zM438 173h1v1h-1zM445 173h1v1h-1zM452 173h1v1h-1zM459 173h1v1h-1zM467 173h1v1h-1zM474 173h1v1h-1zM481 173h1v1h-1zM488 173h1v1h-1zM496 173h1v1h-1zM503 173h1v1h-1zM510 173h1v1h-1zM517 173h1v1h-1zM525 173h1v1h-1zM532 173h1v1h-1zM539 173h1v1h-1zM546 173h1v1h-1zM554 173h1v1h-1zM561 173h1v1h-1zM568 173h1v1h-1zM575 173h1v1h-1zM583 173h1v1h-1zM590 173h1v1h-1zM597 173h1v1h-1zM604 173h1v1h-1zM612 173h1v1h-1zM619 173h1v1h-1zM626 173h1v1h-1zM633 173h1v1h-1zM641 173h1v1h-1zM648 173h1v1h-1zM655 173h1v1h-1zM662 173h1v1h-1zM669 173h1v1h-1zM677 173h1v1h-1zM68 165h1v1h-1zM75 165h1v1h-1zM83 165h1v1h-1zM90 165h1v1h-1zM97 165h1v1h-1zM104 165h1v1h-1zM112 165h1v1h-1zM119 165h1v1h-1zM126 165h1v1h-1zM133 165h1v1h-1zM141 165h1v1h-1zM148 165h1v1h-1zM155 165h1v1h-1zM162 165h1v1h-1zM170 165h1v1h-1zM177 165h1v1h-1zM184 165h1v1h-1zM191 165h1v1h-1zM199 165h1v1h-1zM206 165h1v1h-1zM213 165h1v1h-1zM220 165h1v1h-1zM228 165h1v1h-1zM235 165h1v1h-1zM242 165h1v1h-1zM249 165h1v1h-1zM257 165h1v1h-1zM264 165h1v1h-1zM271 165h1v1h-1zM278 165h1v1h-1zM285 165h1v1h-1zM293 165h1v1h-1zM300 165h1v1h-1zM307 165h1v1h-1zM314 165h1v1h-1zM322 165h1v1h-1zM329 165h1v1h-1zM336 165h1v1h-1zM343 165h1v1h-1zM351 165h1v1h-1zM358 165h1v1h-1zM365 165h1v1h-1zM372 165h1v1h-1zM380 165h1v1h-1zM387 165h1v1h-1zM394 165h1v1h-1zM401 165h1v1h-1zM409 165h1v1h-1zM416 165h1v1h-1zM423 165h1v1h-1zM430 165h1v1h-1zM438 165h1v1h-1zM445 165h1v1h-1zM452 165h1v1h-1zM459 165h1v1h-1zM467 165h1v1h-1zM474 165h1v1h-1zM481 165h1v1h-1zM488 165h1v1h-1zM496 165h1v1h-1zM503 165h1v1h-1zM510 165h1v1h-1zM517 165h1v1h-1zM525 165h1v1h-1zM532 165h1v1h-1zM539 165h1v1h-1zM546 165h1v1h-1zM554 165h1v1h-1zM561 165h1v1h-1zM568 165h1v1h-1zM575 165h1v1h-1zM583 165h1v1h-1zM590 165h1v1h-1zM597 165h1v1h-1zM604 165h1v1h-1zM612 165h1v1h-1zM619 165h1v1h-1zM626 165h1v1h-1zM633 165h1v1h-1zM641 165h1v1h-1zM648 165h1v1h-1zM655 165h1v1h-1zM662 165h1v1h-1zM669 165h1v1h-1zM677 165h1v1h-1zM68 158h1v1h-1zM75 158h1v1h-1zM83 158h1v1h-1zM90 158h1v1h-1zM97 158h1v1h-1zM104 158h1v1h-1zM112 158h1v1h-1zM119 158h1v1h-1zM126 158h1v1h-1zM133 158h1v1h-1zM141 158h1v1h-1zM148 158h1v1h-1zM155 158h1v1h-1zM162 158h1v1h-1zM170 158h1v1h-1zM177 158h1v1h-1zM184 158h1v1h-1zM191 158h1v1h-1zM199 158h1v1h-1zM206 158h1v1h-1zM213 158h1v1h-1zM220 158h1v1h-1zM228 158h1v1h-1zM235 158h1v1h-1zM242 158h1v1h-1zM249 158h1v1h-1zM257 158h1v1h-1zM264 158h1v1h-1zM271 158h1v1h-1zM278 158h1v1h-1zM285 158h1v1h-1zM293 158h1v1h-1zM300 158h1v1h-1zM307 158h1v1h-1zM314 158h1v1h-1zM322 158h1v1h-1zM329 158h1v1h-1zM336 158h1v1h-1zM343 158h1v1h-1zM351 158h1v1h-1zM358 158h1v1h-1zM365 158h1v1h-1zM372 158h1v1h-1zM380 158h1v1h-1zM387 158h1v1h-1zM394 158h1v1h-1zM401 158h1v1h-1zM409 158h1v1h-1zM416 158h1v1h-1zM423 158h1v1h-1zM430 158h1v1h-1zM438 158h1v1h-1zM445 158h1v1h-1zM452 158h1v1h-1zM459 158h1v1h-1zM467 158h1v1h-1zM474 158h1v1h-1zM481 158h1v1h-1zM488 158h1v1h-1zM496 158h1v1h-1zM503 158h1v1h-1zM510 158h1v1h-1zM517 158h1v1h-1zM525 158h1v1h-1zM532 158h1v1h-1zM539 158h1v1h-1zM546 158h1v1h-1zM554 158h1v1h-1zM561 158h1v1h-1zM568 158h1v1h-1zM575 158h1v1h-1zM583 158h1v1h-1zM590 158h1v1h-1zM597 158h1v1h-1zM604 158h1v1h-1zM612 158h1v1h-1zM619 158h1v1h-1zM626 158h1v1h-1zM633 158h1v1h-1zM641 158h1v1h-1zM648 158h1v1h-1zM655 158h1v1h-1zM662 158h1v1h-1zM669 158h1v1h-1zM677 158h1v1h-1zM68 431h1v1h-1zM75 431h1v1h-1zM83 431h1v1h-1zM90 431h1v1h-1zM97 431h1v1h-1zM104 431h1v1h-1zM112 431h1v1h-1zM119 431h1v1h-1zM126 431h1v1h-1zM133 431h1v1h-1zM141 431h1v1h-1zM148 431h1v1h-1zM155 431h1v1h-1zM162 431h1v1h-1zM170 431h1v1h-1zM177 431h1v1h-1zM184 431h1v1h-1zM191 431h1v1h-1zM199 431h1v1h-1zM206 431h1v1h-1zM213 431h1v1h-1zM220 431h1v1h-1zM228 431h1v1h-1zM235 431h1v1h-1zM242 431h1v1h-1zM249 431h1v1h-1zM257 431h1v1h-1zM264 431h1v1h-1zM271 431h1v1h-1zM278 431h1v1h-1zM285 431h1v1h-1zM293 431h1v1h-1zM300 431h1v1h-1zM307 431h1v1h-1zM314 431h1v1h-1zM322 431h1v1h-1zM329 431h1v1h-1zM336 431h1v1h-1zM343 431h1v1h-1zM351 431h1v1h-1zM358 431h1v1h-1zM365 431h1v1h-1zM372 431h1v1h-1zM380 431h1v1h-1zM387 431h1v1h-1zM394 431h1v1h-1zM401 431h1v1h-1zM409 431h1v1h-1zM416 431h1v1h-1zM423 431h1v1h-1zM430 431h1v1h-1zM438 431h1v1h-1zM445 431h1v1h-1zM452 431h1v1h-1zM459 431h1v1h-1zM467 431h1v1h-1zM474 431h1v1h-1zM481 431h1v1h-1zM488 431h1v1h-1zM496 431h1v1h-1zM503 431h1v1h-1zM510 431h1v1h-1zM517 431h1v1h-1zM525 431h1v1h-1zM532 431h1v1h-1zM539 431h1v1h-1zM546 431h1v1h-1zM554 431h1v1h-1zM561 431h1v1h-1zM568 431h1v1h-1zM575 431h1v1h-1zM583 431h1v1h-1zM590 431h1v1h-1zM597 431h1v1h-1zM604 431h1v1h-1zM612 431h1v1h-1zM619 431h1v1h-1zM626 431h1v1h-1zM633 431h1v1h-1zM641 431h1v1h-1zM648 431h1v1h-1zM655 431h1v1h-1zM662 431h1v1h-1zM669 431h1v1h-1zM677 431h1v1h-1zM68 389h1v1h-1zM75 389h1v1h-1zM83 389h1v1h-1zM90 389h1v1h-1zM97 389h1v1h-1zM104 389h1v1h-1zM112 389h1v1h-1zM119 389h1v1h-1zM126 389h1v1h-1zM133 389h1v1h-1zM141 389h1v1h-1zM148 389h1v1h-1zM155 389h1v1h-1zM162 389h1v1h-1zM170 389h1v1h-1zM177 389h1v1h-1zM184 389h1v1h-1zM191 389h1v1h-1zM199 389h1v1h-1zM206 389h1v1h-1zM213 389h1v1h-1zM220 389h1v1h-1zM228 389h1v1h-1zM235 389h1v1h-1zM242 389h1v1h-1zM249 389h1v1h-1zM257 389h1v1h-1zM264 389h1v1h-1zM271 389h1v1h-1zM278 389h1v1h-1zM285 389h1v1h-1zM293 389h1v1h-1zM300 389h1v1h-1zM307 389h1v1h-1zM314 389h1v1h-1zM322 389h1v1h-1zM329 389h1v1h-1zM336 389h1v1h-1zM343 389h1v1h-1zM351 389h1v1h-1zM358 389h1v1h-1zM365 389h1v1h-1zM372 389h1v1h-1zM380 389h1v1h-1zM387 389h1v1h-1zM394 389h1v1h-1zM401 389h1v1h-1zM409 389h1v1h-1zM416 389h1v1h-1zM423 389h1v1h-1zM430 389h1v1h-1zM438 389h1v1h-1zM445 389h1v1h-1zM452 389h1v1h-1zM459 389h1v1h-1zM467 389h1v1h-1zM474 389h1v1h-1zM481 389h1v1h-1zM488 389h1v1h-1zM496 389h1v1h-1zM503 389h1v1h-1zM510 389h1v1h-1zM517 389h1v1h-1zM525 389h1v1h-1zM532 389h1v1h-1zM539 389h1v1h-1zM546 389h1v1h-1zM554 389h1v1h-1zM561 389h1v1h-1zM568 389h1v1h-1zM575 389h1v1h-1zM583 389h1v1h-1zM590 389h1v1h-1zM597 389h1v1h-1zM604 389h1v1h-1zM612 389h1v1h-1zM619 389h1v1h-1zM626 389h1v1h-1zM633 389h1v1h-1zM641 389h1v1h-1zM648 389h1v1h-1zM655 389h1v1h-1zM662 389h1v1h-1zM669 389h1v1h-1zM677 389h1v1h-1zM68 364h1v1h-1zM75 364h1v1h-1zM83 364h1v1h-1zM90 364h1v1h-1zM97 364h1v1h-1zM104 364h1v1h-1zM112 364h1v1h-1zM119 364h1v1h-1zM126 364h1v1h-1zM133 364h1v1h-1zM141 364h1v1h-1zM148 364h1v1h-1zM155 364h1v1h-1zM162 364h1v1h-1zM170 364h1v1h-1zM177 364h1v1h-1zM184 364h1v1h-1zM191 364h1v1h-1zM199 364h1v1h-1zM206 364h1v1h-1zM213 364h1v1h-1zM220 364h1v1h-1zM228 364h1v1h-1zM235 364h1v1h-1zM242 364h1v1h-1zM249 364h1v1h-1zM257 364h1v1h-1zM264 364h1v1h-1zM271 364h1v1h-1zM278 364h1v1h-1zM285 364h1v1h-1zM293 364h1v1h-1zM300 364h1v1h-1zM307 364h1v1h-1zM314 364h1v1h-1zM322 364h1v1h-1zM329 364h1v1h-1zM336 364h1v1h-1zM343 364h1v1h-1zM351 364h1v1h-1zM358 364h1v1h-1zM365 364h1v1h-1zM372 364h1v1h-1zM380 364h1v1h-1zM387 364h1v1h-1zM394 364h1v1h-1zM401 364h1v1h-1zM409 364h1v1h-1zM416 364h1v1h-1zM423 364h1v1h-1zM430 364h1v1h-1zM438 364h1v1h-1zM445 364h1v1h-1zM452 364h1v1h-1zM459 364h1v1h-1zM467 364h1v1h-1zM474 364h1v1h-1zM481 364h1v1h-1zM488 364h1v1h-1zM496 364h1v1h-1zM503 364h1v1h-1zM510 364h1v1h-1zM517 364h1v1h-1zM525 364h1v1h-1zM532 364h1v1h-1zM539 364h1v1h-1zM546 364h1v1h-1zM554 364h1v1h-1zM561 364h1v1h-1zM568 364h1v1h-1zM575 364h1v1h-1zM583 364h1v1h-1zM590 364h1v1h-1zM597 364h1v1h-1zM604 364h1v1h-1zM612 364h1v1h-1zM619 364h1v1h-1zM626 364h1v1h-1zM633 364h1v1h-1zM641 364h1v1h-1zM648 364h1v1h-1zM655 364h1v1h-1zM662 364h1v1h-1zM669 364h1v1h-1zM677 364h1v1h-1zM68 347h1v1h-1zM75 347h1v1h-1zM83 347h1v1h-1zM90 347h1v1h-1zM97 347h1v1h-1zM104 347h1v1h-1zM112 347h1v1h-1zM119 347h1v1h-1zM126 347h1v1h-1zM133 347h1v1h-1zM141 347h1v1h-1zM148 347h1v1h-1zM155 347h1v1h-1zM162 347h1v1h-1zM170 347h1v1h-1zM177 347h1v1h-1zM184 347h1v1h-1zM191 347h1v1h-1zM199 347h1v1h-1zM206 347h1v1h-1zM213 347h1v1h-1zM220 347h1v1h-1zM228 347h1v1h-1zM235 347h1v1h-1zM242 347h1v1h-1zM249 347h1v1h-1zM257 347h1v1h-1zM264 347h1v1h-1zM271 347h1v1h-1zM278 347h1v1h-1zM285 347h1v1h-1zM293 347h1v1h-1zM300 347h1v1h-1zM307 347h1v1h-1zM314 347h1v1h-1zM322 347h1v1h-1zM329 347h1v1h-1zM336 347h1v1h-1zM343 347h1v1h-1zM351 347h1v1h-1zM358 347h1v1h-1zM365 347h1v1h-1zM372 347h1v1h-1zM380 347h1v1h-1zM387 347h1v1h-1zM394 347h1v1h-1zM401 347h1v1h-1zM409 347h1v1h-1zM416 347h1v1h-1zM423 347h1v1h-1zM430 347h1v1h-1zM438 347h1v1h-1zM445 347h1v1h-1zM452 347h1v1h-1zM459 347h1v1h-1zM467 347h1v1h-1zM474 347h1v1h-1zM481 347h1v1h-1zM488 347h1v1h-1zM496 347h1v1h-1zM503 347h1v1h-1zM510 347h1v1h-1zM517 347h1v1h-1zM525 347h1v1h-1zM532 347h1v1h-1zM539 347h1v1h-1zM546 347h1v1h-1zM554 347h1v1h-1zM561 347h1v1h-1zM568 347h1v1h-1zM575 347h1v1h-1zM583 347h1v1h-1zM590 347h1v1h-1zM597 347h1v1h-1zM604 347h1v1h-1zM612 347h1v1h-1zM619 347h1v1h-1zM626 347h1v1h-1zM633 347h1v1h-1zM641 347h1v1h-1zM648 347h1v1h-1zM655 347h1v1h-1zM662 347h1v1h-1zM669 347h1v1h-1zM677 347h1v1h-1zM68 333h1v1h-1zM75 333h1v1h-1zM83 333h1v1h-1zM90 333h1v1h-1zM97 333h1v1h-1zM104 333h1v1h-1zM112 333h1v1h-1zM119 333h1v1h-1zM126 333h1v1h-1zM133 333h1v1h-1zM141 333h1v1h-1zM148 333h1v1h-1zM155 333h1v1h-1zM162 333h1v1h-1zM170 333h1v1h-1zM177 333h1v1h-1zM184 333h1v1h-1zM191 333h1v1h-1zM199 333h1v1h-1zM206 333h1v1h-1zM213 333h1v1h-1zM220 333h1v1h-1zM228 333h1v1h-1zM235 333h1v1h-1zM242 333h1v1h-1zM249 333h1v1h-1zM257 333h1v1h-1zM264 333h1v1h-1zM271 333h1v1h-1zM278 333h1v1h-1zM285 333h1v1h-1zM293 333h1v1h-1zM300 333h1v1h-1zM307 333h1v1h-1zM314 333h1v1h-1zM322 333h1v1h-1zM329 333h1v1h-1zM336 333h1v1h-1zM343 333h1v1h-1zM351 333h1v1h-1zM358 333h1v1h-1zM365 333h1v1h-1zM372 333h1v1h-1zM380 333h1v1h-1zM387 333h1v1h-1zM394 333h1v1h-1zM401 333h1v1h-1zM409 333h1v1h-1zM416 333h1v1h-1zM423 333h1v1h-1zM430 333h1v1h-1zM438 333h1v1h-1zM445 333h1v1h-1zM452 333h1v1h-1zM459 333h1v1h-1zM467 333h1v1h-1zM474 333h1v1h-1zM481 333h1v1h-1zM488 333h1v1h-1zM496 333h1v1h-1zM503 333h1v1h-1zM510 333h1v1h-1zM517 333h1v1h-1zM525 333h1v1h-1zM532 333h1v1h-1zM539 333h1v1h-1zM546 333h1v1h-1zM554 333h1v1h-1zM561 333h1v1h-1zM568 333h1v1h-1zM575 333h1v1h-1zM583 333h1v1h-1zM590 333h1v1h-1zM597 333h1v1h-1zM604 333h1v1h-1zM612 333h1v1h-1zM619 333h1v1h-1zM626 333h1v1h-1zM633 333h1v1h-1zM641 333h1v1h-1zM648 333h1v1h-1zM655 333h1v1h-1zM662 333h1v1h-1zM669 333h1v1h-1zM677 333h1v1h-1zM68 322h1v1h-1zM75 322h1v1h-1zM83 322h1v1h-1zM90 322h1v1h-1zM97 322h1v1h-1zM104 322h1v1h-1zM112 322h1v1h-1zM119 322h1v1h-1zM126 322h1v1h-1zM133 322h1v1h-1zM141 322h1v1h-1zM148 322h1v1h-1zM155 322h1v1h-1zM162 322h1v1h-1zM170 322h1v1h-1zM177 322h1v1h-1zM184 322h1v1h-1zM191 322h1v1h-1zM199 322h1v1h-1zM206 322h1v1h-1zM213 322h1v1h-1zM220 322h1v1h-1zM228 322h1v1h-1zM235 322h1v1h-1zM242 322h1v1h-1zM249 322h1v1h-1zM257 322h1v1h-1zM264 322h1v1h-1zM271 322h1v1h-1zM278 322h1v1h-1zM285 322h1v1h-1zM293 322h1v1h-1zM300 322h1v1h-1zM307 322h1v1h-1zM314 322h1v1h-1zM322 322h1v1h-1zM329 322h1v1h-1zM336 322h1v1h-1zM343 322h1v1h-1zM351 322h1v1h-1zM358 322h1v1h-1zM365 322h1v1h-1zM372 322h1v1h-1zM380 322h1v1h-1zM387 322h1v1h-1zM394 322h1v1h-1zM401 322h1v1h-1zM409 322h1v1h-1zM416 322h1v1h-1zM423 322h1v1h-1zM430 322h1v1h-1zM438 322h1v1h-1zM445 322h1v1h-1zM452 322h1v1h-1zM459 322h1v1h-1zM467 322h1v1h-1zM474 322h1v1h-1zM481 322h1v1h-1zM488 322h1v1h-1zM496 322h1v1h-1zM503 322h1v1h-1zM510 322h1v1h-1zM517 322h1v1h-1zM525 322h1v1h-1zM532 322h1v1h-1zM539 322h1v1h-1zM546 322h1v1h-1zM554 322h1v1h-1zM561 322h1v1h-1zM568 322h1v1h-1zM575 322h1v1h-1zM583 322h1v1h-1zM590 322h1v1h-1zM597 322h1v1h-1zM604 322h1v1h-1zM612 322h1v1h-1zM619 322h1v1h-1zM626 322h1v1h-1zM633 322h1v1h-1zM641 322h1v1h-1zM648 322h1v1h-1zM655 322h1v1h-1zM662 322h1v1h-1zM669 322h1v1h-1zM677 322h1v1h-1zM68 313h1v1h-1zM75 313h1v1h-1zM83 313h1v1h-1zM90 313h1v1h-1zM97 313h1v1h-1zM104 313h1v1h-1zM112 313h1v1h-1zM119 313h1v1h-1zM126 313h1v1h-1zM133 313h1v1h-1zM141 313h1v1h-1zM148 313h1v1h-1zM155 313h1v1h-1zM162 313h1v1h-1zM170 313h1v1h-1zM177 313h1v1h-1zM184 313h1v1h-1zM191 313h1v1h-1zM199 313h1v1h-1zM206 313h1v1h-1zM213 313h1v1h-1zM220 313h1v1h-1zM228 313h1v1h-1zM235 313h1v1h-1zM242 313h1v1h-1zM249 313h1v1h-1zM257 313h1v1h-1zM264 313h1v1h-1zM271 313h1v1h-1zM278 313h1v1h-1zM285 313h1v1h-1zM293 313h1v1h-1zM300 313h1v1h-1zM307 313h1v1h-1zM314 313h1v1h-1zM322 313h1v1h-1zM329 313h1v1h-1zM336 313h1v1h-1zM343 313h1v1h-1zM351 313h1v1h-1zM358 313h1v1h-1zM365 313h1v1h-1zM372 313h1v1h-1zM380 313h1v1h-1zM387 313h1v1h-1zM394 313h1v1h-1zM401 313h1v1h-1zM409 313h1v1h-1zM416 313h1v1h-1zM423 313h1v1h-1zM430 313h1v1h-1zM438 313h1v1h-1zM445 313h1v1h-1zM452 313h1v1h-1zM459 313h1v1h-1zM467 313h1v1h-1zM474 313h1v1h-1zM481 313h1v1h-1zM488 313h1v1h-1zM496 313h1v1h-1zM503 313h1v1h-1zM510 313h1v1h-1zM517 313h1v1h-1zM525 313h1v1h-1zM532 313h1v1h-1zM539 313h1v1h-1zM546 313h1v1h-1zM554 313h1v1h-1zM561 313h1v1h-1zM568 313h1v1h-1zM575 313h1v1h-1zM583 313h1v1h-1zM590 313h1v1h-1zM597 313h1v1h-1zM604 313h1v1h-1zM612 313h1v1h-1zM619 313h1v1h-1zM626 313h1v1h-1zM633 313h1v1h-1zM641 313h1v1h-1zM648 313h1v1h-1zM655 313h1v1h-1zM662 313h1v1h-1zM669 313h1v1h-1zM677 313h1v1h-1zM68 305h1v1h-1zM75 305h1v1h-1zM83 305h1v1h-1zM90 305h1v1h-1zM97 305h1v1h-1zM104 305h1v1h-1zM112 305h1v1h-1zM119 305h1v1h-1zM126 305h1v1h-1zM133 305h1v1h-1zM141 305h1v1h-1zM148 305h1v1h-1zM155 305h1v1h-1zM162 305h1v1h-1zM170 305h1v1h-1zM177 305h1v1h-1zM184 305h1v1h-1zM191 305h1v1h-1zM199 305h1v1h-1zM206 305h1v1h-1zM213 305h1v1h-1zM220 305h1v1h-1zM228 305h1v1h-1zM235 305h1v1h-1zM242 305h1v1h-1zM249 305h1v1h-1zM257 305h1v1h-1zM264 305h1v1h-1zM271 305h1v1h-1zM278 305h1v1h-1zM285 305h1v1h-1zM293 305h1v1h-1zM300 305h1v1h-1zM307 305h1v1h-1zM314 305h1v1h-1zM322 305h1v1h-1zM329 305h1v1h-1zM336 305h1v1h-1zM343 305h1v1h-1zM351 305h1v1h-1zM358 305h1v1h-1zM365 305h1v1h-1zM372 305h1v1h-1zM380 305h1v1h-1zM387 305h1v1h-1zM394 305h1v1h-1zM401 305h1v1h-1zM409 305h1v1h-1zM416 305h1v1h-1zM423 305h1v1h-1zM430 305h1v1h-1zM438 305h1v1h-1zM445 305h1v1h-1zM452 305h1v1h-1zM459 305h1v1h-1zM467 305h1v1h-1zM474 305h1v1h-1zM481 305h1v1h-1zM488 305h1v1h-1zM496 305h1v1h-1zM503 305h1v1h-1zM510 305h1v1h-1zM517 305h1v1h-1zM525 305h1v1h-1zM532 305h1v1h-1zM539 305h1v1h-1zM546 305h1v1h-1zM554 305h1v1h-1zM561 305h1v1h-1zM568 305h1v1h-1zM575 305h1v1h-1zM583 305h1v1h-1zM590 305h1v1h-1zM597 305h1v1h-1zM604 305h1v1h-1zM612 305h1v1h-1zM619 305h1v1h-1zM626 305h1v1h-1zM633 305h1v1h-1zM641 305h1v1h-1zM648 305h1v1h-1zM655 305h1v1h-1zM662 305h1v1h-1zM669 305h1v1h-1zM677 305h1v1h-1zM68 298h1v1h-1zM75 298h1v1h-1zM83 298h1v1h-1zM90 298h1v1h-1zM97 298h1v1h-1zM104 298h1v1h-1zM112 298h1v1h-1zM119 298h1v1h-1zM126 298h1v1h-1zM133 298h1v1h-1zM141 298h1v1h-1zM148 298h1v1h-1zM155 298h1v1h-1zM162 298h1v1h-1zM170 298h1v1h-1zM177 298h1v1h-1zM184 298h1v1h-1zM191 298h1v1h-1zM199 298h1v1h-1zM206 298h1v1h-1zM213 298h1v1h-1zM220 298h1v1h-1zM228 298h1v1h-1zM235 298h1v1h-1zM242 298h1v1h-1zM249 298h1v1h-1zM257 298h1v1h-1zM264 298h1v1h-1zM271 298h1v1h-1zM278 298h1v1h-1zM285 298h1v1h-1zM293 298h1v1h-1zM300 298h1v1h-1zM307 298h1v1h-1zM314 298h1v1h-1zM322 298h1v1h-1zM329 298h1v1h-1zM336 298h1v1h-1zM343 298h1v1h-1zM351 298h1v1h-1zM358 298h1v1h-1zM365 298h1v1h-1zM372 298h1v1h-1zM380 298h1v1h-1zM387 298h1v1h-1zM394 298h1v1h-1zM401 298h1v1h-1zM409 298h1v1h-1zM416 298h1v1h-1zM423 298h1v1h-1zM430 298h1v1h-1zM438 298h1v1h-1zM445 298h1v1h-1zM452 298h1v1h-1zM459 298h1v1h-1zM467 298h1v1h-1zM474 298h1v1h-1zM481 298h1v1h-1zM488 298h1v1h-1zM496 298h1v1h-1zM503 298h1v1h-1zM510 298h1v1h-1zM517 298h1v1h-1zM525 298h1v1h-1zM532 298h1v1h-1zM539 298h1v1h-1zM546 298h1v1h-1zM554 298h1v1h-1zM561 298h1v1h-1zM568 298h1v1h-1zM575 298h1v1h-1zM583 298h1v1h-1zM590 298h1v1h-1zM597 298h1v1h-1zM604 298h1v1h-1zM612 298h1v1h-1zM619 298h1v1h-1zM626 298h1v1h-1zM633 298h1v1h-1zM641 298h1v1h-1zM648 298h1v1h-1zM655 298h1v1h-1zM662 298h1v1h-1zM669 298h1v1h-1zM677 298h1v1h-1zM68 528h1v1h-1zM75 528h1v1h-1zM83 528h1v1h-1zM90 528h1v1h-1zM97 528h1v1h-1zM104 528h1v1h-1zM112 528h1v1h-1zM119 528h1v1h-1zM126 528h1v1h-1zM133 528h1v1h-1zM141 528h1v1h-1zM148 528h1v1h-1zM155 528h1v1h-1zM162 528h1v1h-1zM170 528h1v1h-1zM177 528h1v1h-1zM184 528h1v1h-1zM191 528h1v1h-1zM199 528h1v1h-1zM206 528h1v1h-1zM213 528h1v1h-1zM220 528h1v1h-1zM228 528h1v1h-1zM235 528h1v1h-1zM242 528h1v1h-1zM249 528h1v1h-1zM257 528h1v1h-1zM264 528h1v1h-1zM271 528h1v1h-1zM278 528h1v1h-1zM285 528h1v1h-1zM293 528h1v1h-1zM300 528h1v1h-1zM307 528h1v1h-1zM314 528h1v1h-1zM322 528h1v1h-1zM329 528h1v1h-1zM336 528h1v1h-1zM343 528h1v1h-1zM351 528h1v1h-1zM358 528h1v1h-1zM365 528h1v1h-1zM372 528h1v1h-1zM380 528h1v1h-1zM387 528h1v1h-1zM394 528h1v1h-1zM401 528h1v1h-1zM409 528h1v1h-1zM416 528h1v1h-1zM423 528h1v1h-1zM430 528h1v1h-1zM438 528h1v1h-1zM445 528h1v1h-1zM452 528h1v1h-1zM459 528h1v1h-1zM467 528h1v1h-1zM474 528h1v1h-1zM481 528h1v1h-1zM488 528h1v1h-1zM496 528h1v1h-1zM503 528h1v1h-1zM510 528h1v1h-1zM517 528h1v1h-1zM525 528h1v1h-1zM532 528h1v1h-1zM539 528h1v1h-1zM546 528h1v1h-1zM554 528h1v1h-1zM561 528h1v1h-1zM568 528h1v1h-1zM575 528h1v1h-1zM583 528h1v1h-1zM590 528h1v1h-1zM597 528h1v1h-1zM604 528h1v1h-1zM612 528h1v1h-1zM619 528h1v1h-1zM626 528h1v1h-1zM633 528h1v1h-1zM641 528h1v1h-1zM648 528h1v1h-1zM655 528h1v1h-1zM662 528h1v1h-1zM669 528h1v1h-1zM677 528h1v1h-1zM68 504h1v1h-1zM75 504h1v1h-1zM83 504h1v1h-1zM90 504h1v1h-1zM97 504h1v1h-1zM104 504h1v1h-1zM112 504h1v1h-1zM119 504h1v1h-1zM126 504h1v1h-1zM133 504h1v1h-1zM141 504h1v1h-1zM148 504h1v1h-1zM155 504h1v1h-1zM162 504h1v1h-1zM170 504h1v1h-1zM177 504h1v1h-1zM184 504h1v1h-1zM191 504h1v1h-1zM199 504h1v1h-1zM206 504h1v1h-1zM213 504h1v1h-1zM220 504h1v1h-1zM228 504h1v1h-1zM235 504h1v1h-1zM242 504h1v1h-1zM249 504h1v1h-1zM257 504h1v1h-1zM264 504h1v1h-1zM271 504h1v1h-1zM278 504h1v1h-1zM285 504h1v1h-1zM293 504h1v1h-1zM300 504h1v1h-1zM307 504h1v1h-1zM314 504h1v1h-1zM322 504h1v1h-1zM329 504h1v1h-1zM336 504h1v1h-1zM343 504h1v1h-1zM351 504h1v1h-1zM358 504h1v1h-1zM365 504h1v1h-1zM372 504h1v1h-1zM380 504h1v1h-1zM387 504h1v1h-1zM394 504h1v1h-1zM401 504h1v1h-1zM409 504h1v1h-1zM416 504h1v1h-1zM423 504h1v1h-1zM430 504h1v1h-1zM438 504h1v1h-1zM445 504h1v1h-1zM452 504h1v1h-1zM459 504h1v1h-1zM467 504h1v1h-1zM474 504h1v1h-1zM481 504h1v1h-1zM488 504h1v1h-1zM496 504h1v1h-1zM503 504h1v1h-1zM510 504h1v1h-1zM517 504h1v1h-1zM525 504h1v1h-1zM532 504h1v1h-1zM539 504h1v1h-1zM546 504h1v1h-1zM554 504h1v1h-1zM561 504h1v1h-1zM568 504h1v1h-1zM575 504h1v1h-1zM583 504h1v1h-1zM590 504h1v1h-1zM597 504h1v1h-1zM604 504h1v1h-1zM612 504h1v1h-1zM619 504h1v1h-1zM626 504h1v1h-1zM633 504h1v1h-1zM641 504h1v1h-1zM648 504h1v1h-1zM655 504h1v1h-1zM662 504h1v1h-1zM669 504h1v1h-1zM677 504h1v1h-1zM68 486h1v1h-1zM75 486h1v1h-1zM83 486h1v1h-1zM90 486h1v1h-1zM97 486h1v1h-1zM104 486h1v1h-1zM112 486h1v1h-1zM119 486h1v1h-1zM126 486h1v1h-1zM133 486h1v1h-1zM141 486h1v1h-1zM148 486h1v1h-1zM155 486h1v1h-1zM162 486h1v1h-1zM170 486h1v1h-1zM177 486h1v1h-1zM184 486h1v1h-1zM191 486h1v1h-1zM199 486h1v1h-1zM206 486h1v1h-1zM213 486h1v1h-1zM220 486h1v1h-1zM228 486h1v1h-1zM235 486h1v1h-1zM242 486h1v1h-1zM249 486h1v1h-1zM257 486h1v1h-1zM264 486h1v1h-1zM271 486h1v1h-1zM278 486h1v1h-1zM285 486h1v1h-1zM293 486h1v1h-1zM300 486h1v1h-1zM307 486h1v1h-1zM314 486h1v1h-1zM322 486h1v1h-1zM329 486h1v1h-1zM336 486h1v1h-1zM343 486h1v1h-1zM351 486h1v1h-1zM358 486h1v1h-1zM365 486h1v1h-1zM372 486h1v1h-1zM380 486h1v1h-1zM387 486h1v1h-1zM394 486h1v1h-1zM401 486h1v1h-1zM409 486h1v1h-1zM416 486h1v1h-1zM423 486h1v1h-1zM430 486h1v1h-1zM438 486h1v1h-1zM445 486h1v1h-1zM452 486h1v1h-1zM459 486h1v1h-1zM467 486h1v1h-1zM474 486h1v1h-1zM481 486h1v1h-1zM488 486h1v1h-1zM496 486h1v1h-1zM503 486h1v1h-1zM510 486h1v1h-1zM517 486h1v1h-1zM525 486h1v1h-1zM532 486h1v1h-1zM539 486h1v1h-1zM546 486h1v1h-1zM554 486h1v1h-1zM561 486h1v1h-1zM568 486h1v1h-1zM575 486h1v1h-1zM583 486h1v1h-1zM590 486h1v1h-1zM597 486h1v1h-1zM604 486h1v1h-1zM612 486h1v1h-1zM619 486h1v1h-1zM626 486h1v1h-1zM633 486h1v1h-1zM641 486h1v1h-1zM648 486h1v1h-1zM655 486h1v1h-1zM662 486h1v1h-1zM669 486h1v1h-1zM677 486h1v1h-1zM68 473h1v1h-1zM75 473h1v1h-1zM83 473h1v1h-1zM90 473h1v1h-1zM97 473h1v1h-1zM104 473h1v1h-1zM112 473h1v1h-1zM119 473h1v1h-1zM126 473h1v1h-1zM133 473h1v1h-1zM141 473h1v1h-1zM148 473h1v1h-1zM155 473h1v1h-1zM162 473h1v1h-1zM170 473h1v1h-1zM177 473h1v1h-1zM184 473h1v1h-1zM191 473h1v1h-1zM199 473h1v1h-1zM206 473h1v1h-1zM213 473h1v1h-1zM220 473h1v1h-1zM228 473h1v1h-1zM235 473h1v1h-1zM242 473h1v1h-1zM249 473h1v1h-1zM257 473h1v1h-1zM264 473h1v1h-1zM271 473h1v1h-1zM278 473h1v1h-1zM285 473h1v1h-1zM293 473h1v1h-1zM300 473h1v1h-1zM307 473h1v1h-1zM314 473h1v1h-1zM322 473h1v1h-1zM329 473h1v1h-1zM336 473h1v1h-1zM343 473h1v1h-1zM351 473h1v1h-1zM358 473h1v1h-1zM365 473h1v1h-1zM372 473h1v1h-1zM380 473h1v1h-1zM387 473h1v1h-1zM394 473h1v1h-1zM401 473h1v1h-1zM409 473h1v1h-1zM416 473h1v1h-1zM423 473h1v1h-1zM430 473h1v1h-1zM438 473h1v1h-1zM445 473h1v1h-1zM452 473h1v1h-1zM459 473h1v1h-1zM467 473h1v1h-1zM474 473h1v1h-1zM481 473h1v1h-1zM488 473h1v1h-1zM496 473h1v1h-1zM503 473h1v1h-1zM510 473h1v1h-1zM517 473h1v1h-1zM525 473h1v1h-1zM532 473h1v1h-1zM539 473h1v1h-1zM546 473h1v1h-1zM554 473h1v1h-1zM561 473h1v1h-1zM568 473h1v1h-1zM575 473h1v1h-1zM583 473h1v1h-1zM590 473h1v1h-1zM597 473h1v1h-1zM604 473h1v1h-1zM612 473h1v1h-1zM619 473h1v1h-1zM626 473h1v1h-1zM633 473h1v1h-1zM641 473h1v1h-1zM648 473h1v1h-1zM655 473h1v1h-1zM662 473h1v1h-1zM669 473h1v1h-1zM677 473h1v1h-1zM68 462h1v1h-1zM75 462h1v1h-1zM83 462h1v1h-1zM90 462h1v1h-1zM97 462h1v1h-1zM104 462h1v1h-1zM112 462h1v1h-1zM119 462h1v1h-1zM126 462h1v1h-1zM133 462h1v1h-1zM141 462h1v1h-1zM148 462h1v1h-1zM155 462h1v1h-1zM162 462h1v1h-1zM170 462h1v1h-1zM177 462h1v1h-1zM184 462h1v1h-1zM191 462h1v1h-1zM199 462h1v1h-1zM206 462h1v1h-1zM213 462h1v1h-1zM220 462h1v1h-1zM228 462h1v1h-1zM235 462h1v1h-1zM242 462h1v1h-1zM249 462h1v1h-1zM257 462h1v1h-1zM264 462h1v1h-1zM271 462h1v1h-1zM278 462h1v1h-1zM285 462h1v1h-1zM293 462h1v1h-1zM300 462h1v1h-1zM307 462h1v1h-1zM314 462h1v1h-1zM322 462h1v1h-1zM329 462h1v1h-1zM336 462h1v1h-1zM343 462h1v1h-1zM351 462h1v1h-1zM358 462h1v1h-1zM365 462h1v1h-1zM372 462h1v1h-1zM380 462h1v1h-1zM387 462h1v1h-1zM394 462h1v1h-1zM401 462h1v1h-1zM409 462h1v1h-1zM416 462h1v1h-1zM423 462h1v1h-1zM430 462h1v1h-1zM438 462h1v1h-1zM445 462h1v1h-1zM452 462h1v1h-1zM459 462h1v1h-1zM467 462h1v1h-1zM474 462h1v1h-1zM481 462h1v1h-1zM488 462h1v1h-1zM496 462h1v1h-1zM503 462h1v1h-1zM510 462h1v1h-1zM517 462h1v1h-1zM525 462h1v1h-1zM532 462h1v1h-1zM539 462h1v1h-1zM546 462h1v1h-1zM554 462h1v1h-1zM561 462h1v1h-1zM568 462h1v1h-1zM575 462h1v1h-1zM583 462h1v1h-1zM590 462h1v1h-1zM597 462h1v1h-1zM604 462h1v1h-1zM612 462h1v1h-1zM619 462h1v1h-1zM626 462h1v1h-1zM633 462h1v1h-1zM641 462h1v1h-1zM648 462h1v1h-1zM655 462h1v1h-1zM662 462h1v1h-1zM669 462h1v1h-1zM677 462h1v1h-1zM68 453h1v1h-1zM75 453h1v1h-1zM83 453h1v1h-1zM90 453h1v1h-1zM97 453h1v1h-1zM104 453h1v1h-1zM112 453h1v1h-1zM119 453h1v1h-1zM126 453h1v1h-1zM133 453h1v1h-1zM141 453h1v1h-1zM148 453h1v1h-1zM155 453h1v1h-1zM162 453h1v1h-1zM170 453h1v1h-1zM177 453h1v1h-1zM184 453h1v1h-1zM191 453h1v1h-1zM199 453h1v1h-1zM206 453h1v1h-1zM213 453h1v1h-1zM220 453h1v1h-1zM228 453h1v1h-1zM235 453h1v1h-1zM242 453h1v1h-1zM249 453h1v1h-1zM257 453h1v1h-1zM264 453h1v1h-1zM271 453h1v1h-1zM278 453h1v1h-1zM285 453h1v1h-1zM293 453h1v1h-1zM300 453h1v1h-1zM307 453h1v1h-1zM314 453h1v1h-1zM322 453h1v1h-1zM329 453h1v1h-1zM336 453h1v1h-1zM343 453h1v1h-1zM351 453h1v1h-1zM358 453h1v1h-1zM365 453h1v1h-1zM372 453h1v1h-1zM380 453h1v1h-1zM387 453h1v1h-1zM394 453h1v1h-1zM401 453h1v1h-1zM409 453h1v1h-1zM416 453h1v1h-1zM423 453h1v1h-1zM430 453h1v1h-1zM438 453h1v1h-1zM445 453h1v1h-1zM452 453h1v1h-1zM459 453h1v1h-1zM467 453h1v1h-1zM474 453h1v1h-1zM481 453h1v1h-1zM488 453h1v1h-1zM496 453h1v1h-1zM503 453h1v1h-1zM510 453h1v1h-1zM517 453h1v1h-1zM525 453h1v1h-1zM532 453h1v1h-1zM539 453h1v1h-1zM546 453h1v1h-1zM554 453h1v1h-1zM561 453h1v1h-1zM568 453h1v1h-1zM575 453h1v1h-1zM583 453h1v1h-1zM590 453h1v1h-1zM597 453h1v1h-1zM604 453h1v1h-1zM612 453h1v1h-1zM619 453h1v1h-1zM626 453h1v1h-1zM633 453h1v1h-1zM641 453h1v1h-1zM648 453h1v1h-1zM655 453h1v1h-1zM662 453h1v1h-1zM669 453h1v1h-1zM677 453h1v1h-1zM68 444h1v1h-1zM75 444h1v1h-1zM83 444h1v1h-1zM90 444h1v1h-1zM97 444h1v1h-1zM104 444h1v1h-1zM112 444h1v1h-1zM119 444h1v1h-1zM126 444h1v1h-1zM133 444h1v1h-1zM141 444h1v1h-1zM148 444h1v1h-1zM155 444h1v1h-1zM162 444h1v1h-1zM170 444h1v1h-1zM177 444h1v1h-1zM184 444h1v1h-1zM191 444h1v1h-1zM199 444h1v1h-1zM206 444h1v1h-1zM213 444h1v1h-1zM220 444h1v1h-1zM228 444h1v1h-1zM235 444h1v1h-1zM242 444h1v1h-1zM249 444h1v1h-1zM257 444h1v1h-1zM264 444h1v1h-1zM271 444h1v1h-1zM278 444h1v1h-1zM285 444h1v1h-1zM293 444h1v1h-1zM300 444h1v1h-1zM307 444h1v1h-1zM314 444h1v1h-1zM322 444h1v1h-1zM329 444h1v1h-1zM336 444h1v1h-1zM343 444h1v1h-1zM351 444h1v1h-1zM358 444h1v1h-1zM365 444h1v1h-1zM372 444h1v1h-1zM380 444h1v1h-1zM387 444h1v1h-1zM394 444h1v1h-1zM401 444h1v1h-1zM409 444h1v1h-1zM416 444h1v1h-1zM423 444h1v1h-1zM430 444h1v1h-1zM438 444h1v1h-1zM445 444h1v1h-1zM452 444h1v1h-1zM459 444h1v1h-1zM467 444h1v1h-1zM474 444h1v1h-1zM481 444h1v1h-1zM488 444h1v1h-1zM496 444h1v1h-1zM503 444h1v1h-1zM510 444h1v1h-1zM517 444h1v1h-1zM525 444h1v1h-1zM532 444h1v1h-1zM539 444h1v1h-1zM546 444h1v1h-1zM554 444h1v1h-1zM561 444h1v1h-1zM568 444h1v1h-1zM575 444h1v1h-1zM583 444h1v1h-1zM590 444h1v1h-1zM597 444h1v1h-1zM604 444h1v1h-1zM612 444h1v1h-1zM619 444h1v1h-1zM626 444h1v1h-1zM633 444h1v1h-1zM641 444h1v1h-1zM648 444h1v1h-1zM655 444h1v1h-1zM662 444h1v1h-1zM669 444h1v1h-1zM677 444h1v1h-1zM68 437h1v1h-1zM75 437h1v1h-1zM83 437h1v1h-1zM90 437h1v1h-1zM97 437h1v1h-1zM104 437h1v1h-1zM112 437h1v1h-1zM119 437h1v1h-1zM126 437h1v1h-1zM133 437h1v1h-1zM141 437h1v1h-1zM148 437h1v1h-1zM155 437h1v1h-1zM162 437h1v1h-1zM170 437h1v1h-1zM177 437h1v1h-1zM184 437h1v1h-1zM191 437h1v1h-1zM199 437h1v1h-1zM206 437h1v1h-1zM213 437h1v1h-1zM220 437h1v1h-1zM228 437h1v1h-1zM235 437h1v1h-1zM242 437h1v1h-1zM249 437h1v1h-1zM257 437h1v1h-1zM264 437h1v1h-1zM271 437h1v1h-1zM278 437h1v1h-1zM285 437h1v1h-1zM293 437h1v1h-1zM300 437h1v1h-1zM307 437h1v1h-1zM314 437h1v1h-1zM322 437h1v1h-1zM329 437h1v1h-1zM336 437h1v1h-1zM343 437h1v1h-1zM351 437h1v1h-1zM358 437h1v1h-1zM365 437h1v1h-1zM372 437h1v1h-1zM380 437h1v1h-1zM387 437h1v1h-1zM394 437h1v1h-1zM401 437h1v1h-1zM409 437h1v1h-1zM416 437h1v1h-1zM423 437h1v1h-1zM430 437h1v1h-1zM438 437h1v1h-1zM445 437h1v1h-1zM452 437h1v1h-1zM459 437h1v1h-1zM467 437h1v1h-1zM474 437h1v1h-1zM481 437h1v1h-1zM488 437h1v1h-1zM496 437h1v1h-1zM503 437h1v1h-1zM510 437h1v1h-1zM517 437h1v1h-1zM525 437h1v1h-1zM532 437h1v1h-1zM539 437h1v1h-1zM546 437h1v1h-1zM554 437h1v1h-1zM561 437h1v1h-1zM568 437h1v1h-1zM575 437h1v1h-1zM583 437h1v1h-1zM590 437h1v1h-1zM597 437h1v1h-1zM604 437h1v1h-1zM612 437h1v1h-1zM619 437h1v1h-1zM626 437h1v1h-1zM633 437h1v1h-1zM641 437h1v1h-1zM648 437h1v1h-1zM655 437h1v1h-1zM662 437h1v1h-1zM669 437h1v1h-1zM677 437h1v1h-1z"/><path shape-rendering="crispEdges" fill="#9a9a9a" d="M138 563h1v1h-1zM138 556h1v1h-1zM138 549h1v1h-1zM138 542h1v1h-1zM138 534h1v1h-1zM138 527h1v1h-1zM138 520h1v1h-1zM138 513h1v1h-1zM138 505h1v1h-1zM138 498h1v1h-1zM138 491h1v1h-1zM138 484h1v1h-1zM138 476h1v1h-1zM138 469h1v1h-1zM138 462h1v1h-1zM138 455h1v1h-1zM138 447h1v1h-1zM138 440h1v1h-1zM138 433h1v1h-1zM138 426h1v1h-1zM138 418h1v1h-1zM138 411h1v1h-1zM138 404h1v1h-1zM138 397h1v1h-1zM138 389h1v1h-1zM138 382h1v1h-1zM138 375h1v1h-1zM138 368h1v1h-1zM138 360h1v1h-1zM138 353h1v1h-1zM138 346h1v1h-1zM138 339h1v1h-1zM138 331h1v1h-1zM138 324h1v1h-1zM138 317h1v1h-1zM138 310h1v1h-1zM138 302h1v1h-1zM138 295h1v1h-1zM138 288h1v1h-1zM138 281h1v1h-1zM138 273h1v1h-1zM138 266h1v1h-1zM138 259h1v1h-1zM138 252h1v1h-1zM138 244h1v1h-1zM138 237h1v1h-1zM138 230h1v1h-1zM138 223h1v1h-1zM138 215h1v1h-1zM138 208h1v1h-1zM138 201h1v1h-1zM138 194h1v1h-1zM138 187h1v1h-1zM138 179h1v1h-1zM138 172h1v1h-1zM138 165h1v1h-1zM138 158h1v1h-1zM138 150h1v1h-1zM138 143h1v1h-1zM138 136h1v1h-1zM138 129h1v1h-1zM138 121h1v1h-1zM138 114h1v1h-1zM138 107h1v1h-1zM138 100h1v1h-1zM138 92h1v1h-1zM138 85h1v1h-1zM138 78h1v1h-1zM138 71h1v1h-1zM138 63h1v1h-1zM138 56h1v1h-1zM138 49h1v1h-1zM138 42h1v1h-1zM138 34h1v1h-1zM138 27h1v1h-1zM138 20h1v1h-1zM215 563h1v1h-1zM215 556h1v1h-1zM215 549h1v1h-1zM215 542h1v1h-1zM215 534h1v1h-1zM215 527h1v1h-1zM215 520h1v1h-1zM215 513h1v1h-1zM215 505h1v1h-1zM215 498h1v1h-1zM215 491h1v1h-1zM215 484h1v1h-1zM215 476h1v1h-1zM215 469h1v1h-1zM215 462h1v1h-1zM215 455h1v1h-1zM215 447h1v1h-1zM215 440h1v1h-1zM215 433h1v1h-1zM215 426h1v1h-1zM215 418h1v1h-1zM215 411h1v1h-1zM215 404h1v1h-1zM215 397h1v1h-1zM215 389h1v1h-1zM215 382h1v1h-1zM215 375h1v1h-1zM215 368h1v1h-1zM215 360h1v1h-1zM215 353h1v1h-1zM215 346h1v1h-1zM215 339h1v1h-1zM215 331h1v1h-1zM215 324h1v1h-1zM215 317h1v1h-1zM215 310h1v1h-1zM215 302h1v1h-1zM215 295h1v1h-1zM215 288h1v1h-1zM215 281h1v1h-1zM215 273h1v1h-1zM215 266h1v1h-1zM215 259h1v1h-1zM215 252h1v1h-1zM215 244h1v1h-1zM215 237h1v1h-1zM215 230h1v1h-1zM215 223h1v1h-1zM215 215h1v1h-1zM215 208h1v1h-1zM215 201h1v1h-1zM215 194h1v1h-1zM215 187h1v1h-1zM215 179h1v1h-1zM215 172h1v1h-1zM215 165h1v1h-1zM215 158h1v1h-1zM215 150h1v1h-1zM215 143h1v1h-1zM215 136h1v1h-1zM215 129h1v1h-1zM215 121h1v1h-1zM215 114h1v1h-1zM215 107h1v1h-1zM215 100h1v1h-1zM215 92h1v1h-1zM215 85h1v1h-1zM215 78h1v1h-1zM215 71h1v1h-1zM215 63h1v1h-1zM215 56h1v1h-1zM215 49h1v1h-1zM215 42h1v1h-1zM215 34h1v1h-1zM215 27h1v1h-1zM215 20h1v1h-1zM293 563h1v1h-1zM293 556h1v1h-1zM293 549h1v1h-1zM293 542h1v1h-1zM293 534h1v1h-1zM293 527h1v1h-1zM293 520h1v1h-1zM293 513h1v1h-1zM293 505h1v1h-1zM293 498h1v1h-1zM293 491h1v1h-1zM293 484h1v1h-1zM293 476h1v1h-1zM293 469h1v1h-1zM293 462h1v1h-1zM293 455h1v1h-1zM293 447h1v1h-1zM293 440h1v1h-1zM293 433h1v1h-1zM293 426h1v1h-1zM293 418h1v1h-1zM293 411h1v1h-1zM293 404h1v1h-1zM293 397h1v1h-1zM293 389h1v1h-1zM293 382h1v1h-1zM293 375h1v1h-1zM293 368h1v1h-1zM293 360h1v1h-1zM293 353h1v1h-1zM293 346h1v1h-1zM293 339h1v1h-1zM293 331h1v1h-1zM293 324h1v1h-1zM293 317h1v1h-1zM293 310h1v1h-1zM293 302h1v1h-1zM293 295h1v1h-1zM293 288h1v1h-1zM293 281h1v1h-1zM293 273h1v1h-1zM293 266h1v1h-1zM293 259h1v1h-1zM293 252h1v1h-1zM293 244h1v1h-1zM293 237h1v1h-1zM293 230h1v1h-1zM293 223h1v1h-1zM293 215h1v1h-1zM293 208h1v1h-1zM293 201h1v1h-1zM293 194h1v1h-1zM293 187h1v1h-1zM293 179h1v1h-1zM293 172h1v1h-1zM293 165h1v1h-1zM293 158h1v1h-1zM293 150h1v1h-1zM293 143h1v1h-1zM293 136h1v1h-1zM293 129h1v1h-1zM293 121h1v1h-1zM293 114h1v1h-1zM293 107h1v1h-1zM293 100h1v1h-1zM293 92h1v1h-1zM293 85h1v1h-1zM293 78h1v1h-1zM293 71h1v1h-1zM293 63h1v1h-1zM293 56h1v1h-1zM293 49h1v1h-1zM293 42h1v1h-1zM293 34h1v1h-1zM293 27h1v1h-1zM293 20h1v1h-1zM370 563h1v1h-1zM370 556h1v1h-1zM370 549h1v1h-1zM370 542h1v1h-1zM370 534h1v1h-1zM370 527h1v1h-1zM370 520h1v1h-1zM370 513h1v1h-1zM370 505h1v1h-1zM370 498h1v1h-1zM370 491h1v1h-1zM370 484h1v1h-1zM370 476h1v1h-1zM370 469h1v1h-1zM370 462h1v1h-1zM370 455h1v1h-1zM370 447h1v1h-1zM370 440h1v1h-1zM370 433h1v1h-1zM370 426h1v1h-1zM370 418h1v1h-1zM370 411h1v1h-1zM370 404h1v1h-1zM370 397h1v1h-1zM370 389h1v1h-1zM370 382h1v1h-1zM370 375h1v1h-1zM370 368h1v1h-1zM370 360h1v1h-1zM370 353h1v1h-1zM370 346h1v1h-1zM370 339h1v1h-1zM370 331h1v1h-1zM370 324h1v1h-1zM370 317h1v1h-1zM370 310h1v1h-1zM370 302h1v1h-1zM370 295h1v1h-1zM370 288h1v1h-1zM370 281h1v1h-1zM370 273h1v1h-1zM370 266h1v1h-1zM370 259h1v1h-1zM370 252h1v1h-1zM370 244h1v1h-1zM370 237h1v1h-1zM370 230h1v1h-1zM370 223h1v1h-1zM370 215h1v1h-1zM370 208h1v1h-1zM370 201h1v1h-1zM370 194h1v1h-1zM370 187h1v1h-1zM370 179h1v1h-1zM370 172h1v1h-1zM370 165h1v1h-1zM370 158h1v1h-1zM370 150h1v1h-1zM370 143h1v1h-1zM370 136h1v1h-1zM370 129h1v1h-1zM370 121h1v1h-1zM370 114h1v1h-1zM370 107h1v1h-1zM370 100h1v1h-1zM370 92h1v1h-1zM370 85h1v1h-1zM370 78h1v1h-1zM370 71h1v1h-1zM370 63h1v1h-1zM370 56h1v1h-1zM370 49h1v1h-1zM370 42h1v1h-1zM370 34h1v1h-1zM370 27h1v1h-1zM370 20h1v1h-1zM447 563h1v1h-1zM447 556h1v1h-1zM447 549h1v1h-1zM447 542h1v1h-1zM447 534h1v1h-1zM447 527h1v1h-1zM447 520h1v1h-1zM447 513h1v1h-1zM447 505h1v1h-1zM447 498h1v1h-1zM447 491h1v1h-1zM447 484h1v1h-1zM447 476h1v1h-1zM447 469h1v1h-1zM447 462h1v1h-1zM447 455h1v1h-1zM447 447h1v1h-1zM447 440h1v1h-1zM447 433h1v1h-1zM447 426h1v1h-1zM447 418h1v1h-1zM447 411h1v1h-1zM447 404h1v1h-1zM447 397h1v1h-1zM447 389h1v1h-1zM447 382h1v1h-1zM447 375h1v1h-1zM447 368h1v1h-1zM447 360h1v1h-1zM447 353h1v1h-1zM447 346h1v1h-1zM447 339h1v1h-1zM447 331h1v1h-1zM447 324h1v1h-1zM447 317h1v1h-1zM447 310h1v1h-1zM447 302h1v1h-1zM447 295h1v1h-1zM447 288h1v1h-1zM447 281h1v1h-1zM447 273h1v1h-1zM447 266h1v1h-1zM447 259h1v1h-1zM447 252h1v1h-1zM447 244h1v1h-1zM447 237h1v1h-1zM447 230h1v1h-1zM447 223h1v1h-1zM447 215h1v1h-1zM447 208h1v1h-1zM447 201h1v1h-1zM447 194h1v1h-1zM447 187h1v1h-1zM447 179h1v1h-1zM447 172h1v1h-1zM447 165h1v1h-1zM447 158h1v1h-1zM447 150h1v1h-1zM447 143h1v1h-1zM447 136h1v1h-1zM447 129h1v1h-1zM447 121h1v1h-1zM447 114h1v1h-1zM447 107h1v1h-1zM447 100h1v1h-1zM447 92h1v1h-1zM447 85h1v1h-1zM447 78h1v1h-1zM447 71h1v1h-1zM447 63h1v1h-1zM447 56h1v1h-1zM447 49h1v1h-1zM447 42h1v1h-1zM447 34h1v1h-1zM447 27h1v1h-1zM447 20h1v1h-1zM525 563h1v1h-1zM525 556h1v1h-1zM525 549h1v1h-1zM525 542h1v1h-1zM525 534h1v1h-1zM525 527h1v1h-1zM525 520h1v1h-1zM525 513h1v1h-1zM525 505h1v1h-1zM525 498h1v1h-1zM525 491h1v1h-1zM525 484h1v1h-1zM525 476h1v1h-1zM525 469h1v1h-1zM525 462h1v1h-1zM525 455h1v1h-1zM525 447h1v1h-1zM525 440h1v1h-1zM525 433h1v1h-1zM525 426h1v1h-1zM525 418h1v1h-1zM525 411h1v1h-1zM525 404h1v1h-1zM525 397h1v1h-1zM525 389h1v1h-1zM525 382h1v1h-1zM525 375h1v1h-1zM525 368h1v1h-1zM525 360h1v1h-1zM525 353h1v1h-1zM525 346h1v1h-1zM525 339h1v1h-1zM525 331h1v1h-1zM525 324h1v1h-1zM525 317h1v1h-1zM525 310h1v1h-1zM525 302h1v1h-1zM525 295h1v1h-1zM525 288h1v1h-1zM525 281h1v1h-1zM525 273h1v1h-1zM525 266h1v1h-1zM525 259h1v1h-1zM525 252h1v1h-1zM525 244h1v1h-1zM525 237h1v1h-1zM525 230h1v1h-1zM525 223h1v1h-1zM525 215h1v1h-1zM525 208h1v1h-1zM525 201h1v1h-1zM525 194h1v1h-1zM525 187h1v1h-1zM525 179h1v1h-1zM525 172h1v1h-1zM525 165h1v1h-1zM525 158h1v1h-1zM525 150h1v1h-1zM525 143h1v1h-1zM525 136h1v1h-1zM525 129h1v1h-1zM525 121h1v1h-1zM525 114h1v1h-1zM525 107h1v1h-1zM525 100h1v1h-1zM525 92h1v1h-1zM525 85h1v1h-1zM525 78h1v1h-1zM525 71h1v1h-1zM525 63h1v1h-1zM525 56h1v1h-1zM525 49h1v1h-1zM525 42h1v1h-1zM525 34h1v1h-1zM525 27h1v1h-1zM525 20h1v1h-1zM602 563h1v1h-1zM602 556h1v1h-1zM602 549h1v1h-1zM602 542h1v1h-1zM602 534h1v1h-1zM602 527h1v1h-1zM602 520h1v1h-1zM602 513h1v1h-1zM602 505h1v1h-1zM602 498h1v1h-1zM602 491h1v1h-1zM602 484h1v1h-1zM602 476h1v1h-1zM602 469h1v1h-1zM602 462h1v1h-1zM602 455h1v1h-1zM602 447h1v1h-1zM602 440h1v1h-1zM602 433h1v1h-1zM602 426h1v1h-1zM602 418h1v1h-1zM602 411h1v1h-1zM602 404h1v1h-1zM602 397h1v1h-1zM602 389h1v1h-1zM602 382h1v1h-1zM602 375h1v1h-1zM602 368h1v1h-1zM602 360h1v1h-1zM602 353h1v1h-1zM602 346h1v1h-1zM602 339h1v1h-1zM602 331h1v1h-1zM602 324h1v1h-1zM602 317h1v1h-1zM602 310h1v1h-1zM602 302h1v1h-1zM602 295h1v1h-1zM602 288h1v1h-1zM602 281h1v1h-1zM602 273h1v1h-1zM602 266h1v1h-1zM602 259h1v1h-1zM602 252h1v1h-1zM602 244h1v1h-1zM602 237h1v1h-1zM602 230h1v1h-1zM602 223h1v1h-1zM602 215h1v1h-1zM602 208h1v1h-1zM602 201h1v1h-1zM602 194h1v1h-1zM602 187h1v1h-1zM602 179h1v1h-1zM602 172h1v1h-1zM602 165h1v1h-1zM602 158h1v1h-1zM602 150h1v1h-1zM602 143h1v1h-1zM602 136h1v1h-1zM602 129h1v1h-1zM602 121h1v1h-1zM602 114h1v1h-1zM602 107h1v1h-1zM602 100h1v1h-1zM602 92h1v1h-1zM602 85h1v1h-1zM602 78h1v1h-1zM602 71h1v1h-1zM602 63h1v1h-1zM602 56h1v1h-1zM602 49h1v1h-1zM602 42h1v1h-1zM602 34h1v1h-1zM602 27h1v1h-1zM602 20h1v1h-1z"/><g stroke="#e0383f" stroke-width="1.1" fill="none"><polyline points="61.40,121.20 215.95,154.30 370.50,206.70 525.05,260.40 679.60,328.80"/><rect x="57.65" y="117.45" width="7.50" height="7.50"/><rect x="212.20" y="150.55" width="7.50" height="7.50"/><rect x="366.75" y="202.95" width="7.50" height="7.50"/><rect x="521.30" y="256.65" width="7.50" height="7.50"/><rect x="675.85" y="325.05" width="7.50" height="7.50"/></g><g stroke="#e0383f" stroke-width="1.1" fill="none"><polyline points="61.40,129.40 215.95,162.80 370.50,224.80 525.05,303.20 679.60,382.00"/><circle cx="61.40" cy="129.40" r="4.6"/><circle cx="215.95" cy="162.80" r="4.6"/><circle cx="370.50" cy="224.80" r="4.6"/><circle cx="525.05" cy="303.20" r="4.6"/><circle cx="679.60" cy="382.00" r="4.6"/></g><g stroke="#3250d2" stroke-width="1.1" fill="none"><polyline points="61.40,129.00 215.95,160.20 370.50,222.20 525.05,301.10 679.60,401.60"/><rect x="57.65" y="125.25" width="7.50" height="7.50"/><rect x="212.20" y="156.45" width="7.50" height="7.50"/><rect x="366.75" y="218.45" width="7.50" height="7.50"/><rect x="521.30" y="297.35" width="7.50" height="7.50"/><rect x="675.85" y="397.85" width="7.50" height="7.50"/></g><g stroke="#3250d2" stroke-width="1.1" fill="none"><polyline points="61.40,137.60 215.95,173.90 370.50,246.90 525.05,345.00 679.60,466.90"/><circle cx="61.40" cy="137.60" r="4.6"/><circle cx="215.95" cy="173.90" r="4.6"/><circle cx="370.50" cy="246.90" r="4.6"/><circle cx="525.05" cy="345.00" r="4.6"/><circle cx="679.60" cy="466.90" r="4.6"/></g><polyline points="61.4,158.5 138.7,194.3 215.9,236.1 293.3,282.7 370.4,342.2 447.5,430 525,523" fill="none" stroke="#2a2a2a" stroke-width="1.1" stroke-dasharray="9.6 5.8 1.6 6.4" stroke-dashoffset="16.2"/><path d="M61.40 152.12h5.5M679.60 152.12h-5.5M61.40 110.09h3.2M679.60 110.09h-3.2M61.40 85.51h3.2M679.60 85.51h-3.2M61.40 68.06h3.2M679.60 68.06h-3.2M61.40 54.53h3.2M679.60 54.53h-3.2M61.40 43.48h3.2M679.60 43.48h-3.2M61.40 34.13h3.2M679.60 34.13h-3.2M61.40 26.03h3.2M679.60 26.03h-3.2M61.40 18.89h3.2M679.60 18.89h-3.2M61.40 291.75h5.5M679.60 291.75h-5.5M61.40 249.72h3.2M679.60 249.72h-3.2M61.40 225.13h3.2M679.60 225.13h-3.2M61.40 207.69h3.2M679.60 207.69h-3.2M61.40 194.16h3.2M679.60 194.16h-3.2M61.40 183.10h3.2M679.60 183.10h-3.2M61.40 173.75h3.2M679.60 173.75h-3.2M61.40 165.66h3.2M679.60 165.66h-3.2M61.40 158.51h3.2M679.60 158.51h-3.2M61.40 431.38h5.5M679.60 431.38h-5.5M61.40 389.34h3.2M679.60 389.34h-3.2M61.40 364.76h3.2M679.60 364.76h-3.2M61.40 347.31h3.2M679.60 347.31h-3.2M61.40 333.78h3.2M679.60 333.78h-3.2M61.40 322.73h3.2M679.60 322.73h-3.2M61.40 313.38h3.2M679.60 313.38h-3.2M61.40 305.28h3.2M679.60 305.28h-3.2M61.40 298.14h3.2M679.60 298.14h-3.2M61.40 528.97h3.2M679.60 528.97h-3.2M61.40 504.38h3.2M679.60 504.38h-3.2M61.40 486.94h3.2M679.60 486.94h-3.2M61.40 473.41h3.2M679.60 473.41h-3.2M61.40 462.35h3.2M679.60 462.35h-3.2M61.40 453.00h3.2M679.60 453.00h-3.2M61.40 444.91h3.2M679.60 444.91h-3.2M61.40 437.76h3.2M679.60 437.76h-3.2M61.40 571.00v-6M61.40 12.50v6M138.68 571.00v-6M138.68 12.50v6M215.95 571.00v-6M215.95 12.50v6M293.23 571.00v-6M293.23 12.50v6M370.50 571.00v-6M370.50 12.50v6M447.77 571.00v-6M447.77 12.50v6M525.05 571.00v-6M525.05 12.50v6M602.33 571.00v-6M602.33 12.50v6M679.60 571.00v-6M679.60 12.50v6" stroke="#222" stroke-width="1.2" fill="none"/><rect x="61.40" y="12.50" width="618.20" height="558.50" stroke="#222" stroke-width="1.2" fill="none"/><g font-family="Liberation Serif" font-size="16" fill="#111" stroke="#111" stroke-width="0.15" style="filter:grayscale(1)" text-rendering="geometricPrecision"><text x="61.40" y="590.9" text-anchor="middle">0</text><text x="138.68" y="590.9" text-anchor="middle">1</text><text x="215.95" y="590.9" text-anchor="middle">2</text><text x="293.23" y="590.9" text-anchor="middle">3</text><text x="370.50" y="590.9" text-anchor="middle">4</text><text x="447.77" y="590.9" text-anchor="middle">5</text><text x="525.05" y="590.9" text-anchor="middle">6</text><text x="602.33" y="590.9" text-anchor="middle">7</text><text x="679.60" y="590.9" text-anchor="middle">8</text><text x="30.0" y="18.40">10<tspan font-size="10.4" dx="-1.0" dy="-9.2">0</tspan></text><text x="30.0" y="158.03">10<tspan font-size="10.4" dx="-1.0" dy="-9.2">−1</tspan></text><text x="30.0" y="297.65">10<tspan font-size="10.4" dx="-1.0" dy="-9.2">−2</tspan></text><text x="30.0" y="437.27">10<tspan font-size="10.4" dx="-1.0" dy="-9.2">−3</tspan></text><text x="30.0" y="576.90">10<tspan font-size="10.4" dx="-1.0" dy="-9.2">−4</tspan></text><text x="370.50" y="611.6" text-anchor="middle">Eb/No [dB]</text><text transform="translate(14.3,292.25) rotate(-90)" text-anchor="middle">BER</text></g></svg></div></body></html>
